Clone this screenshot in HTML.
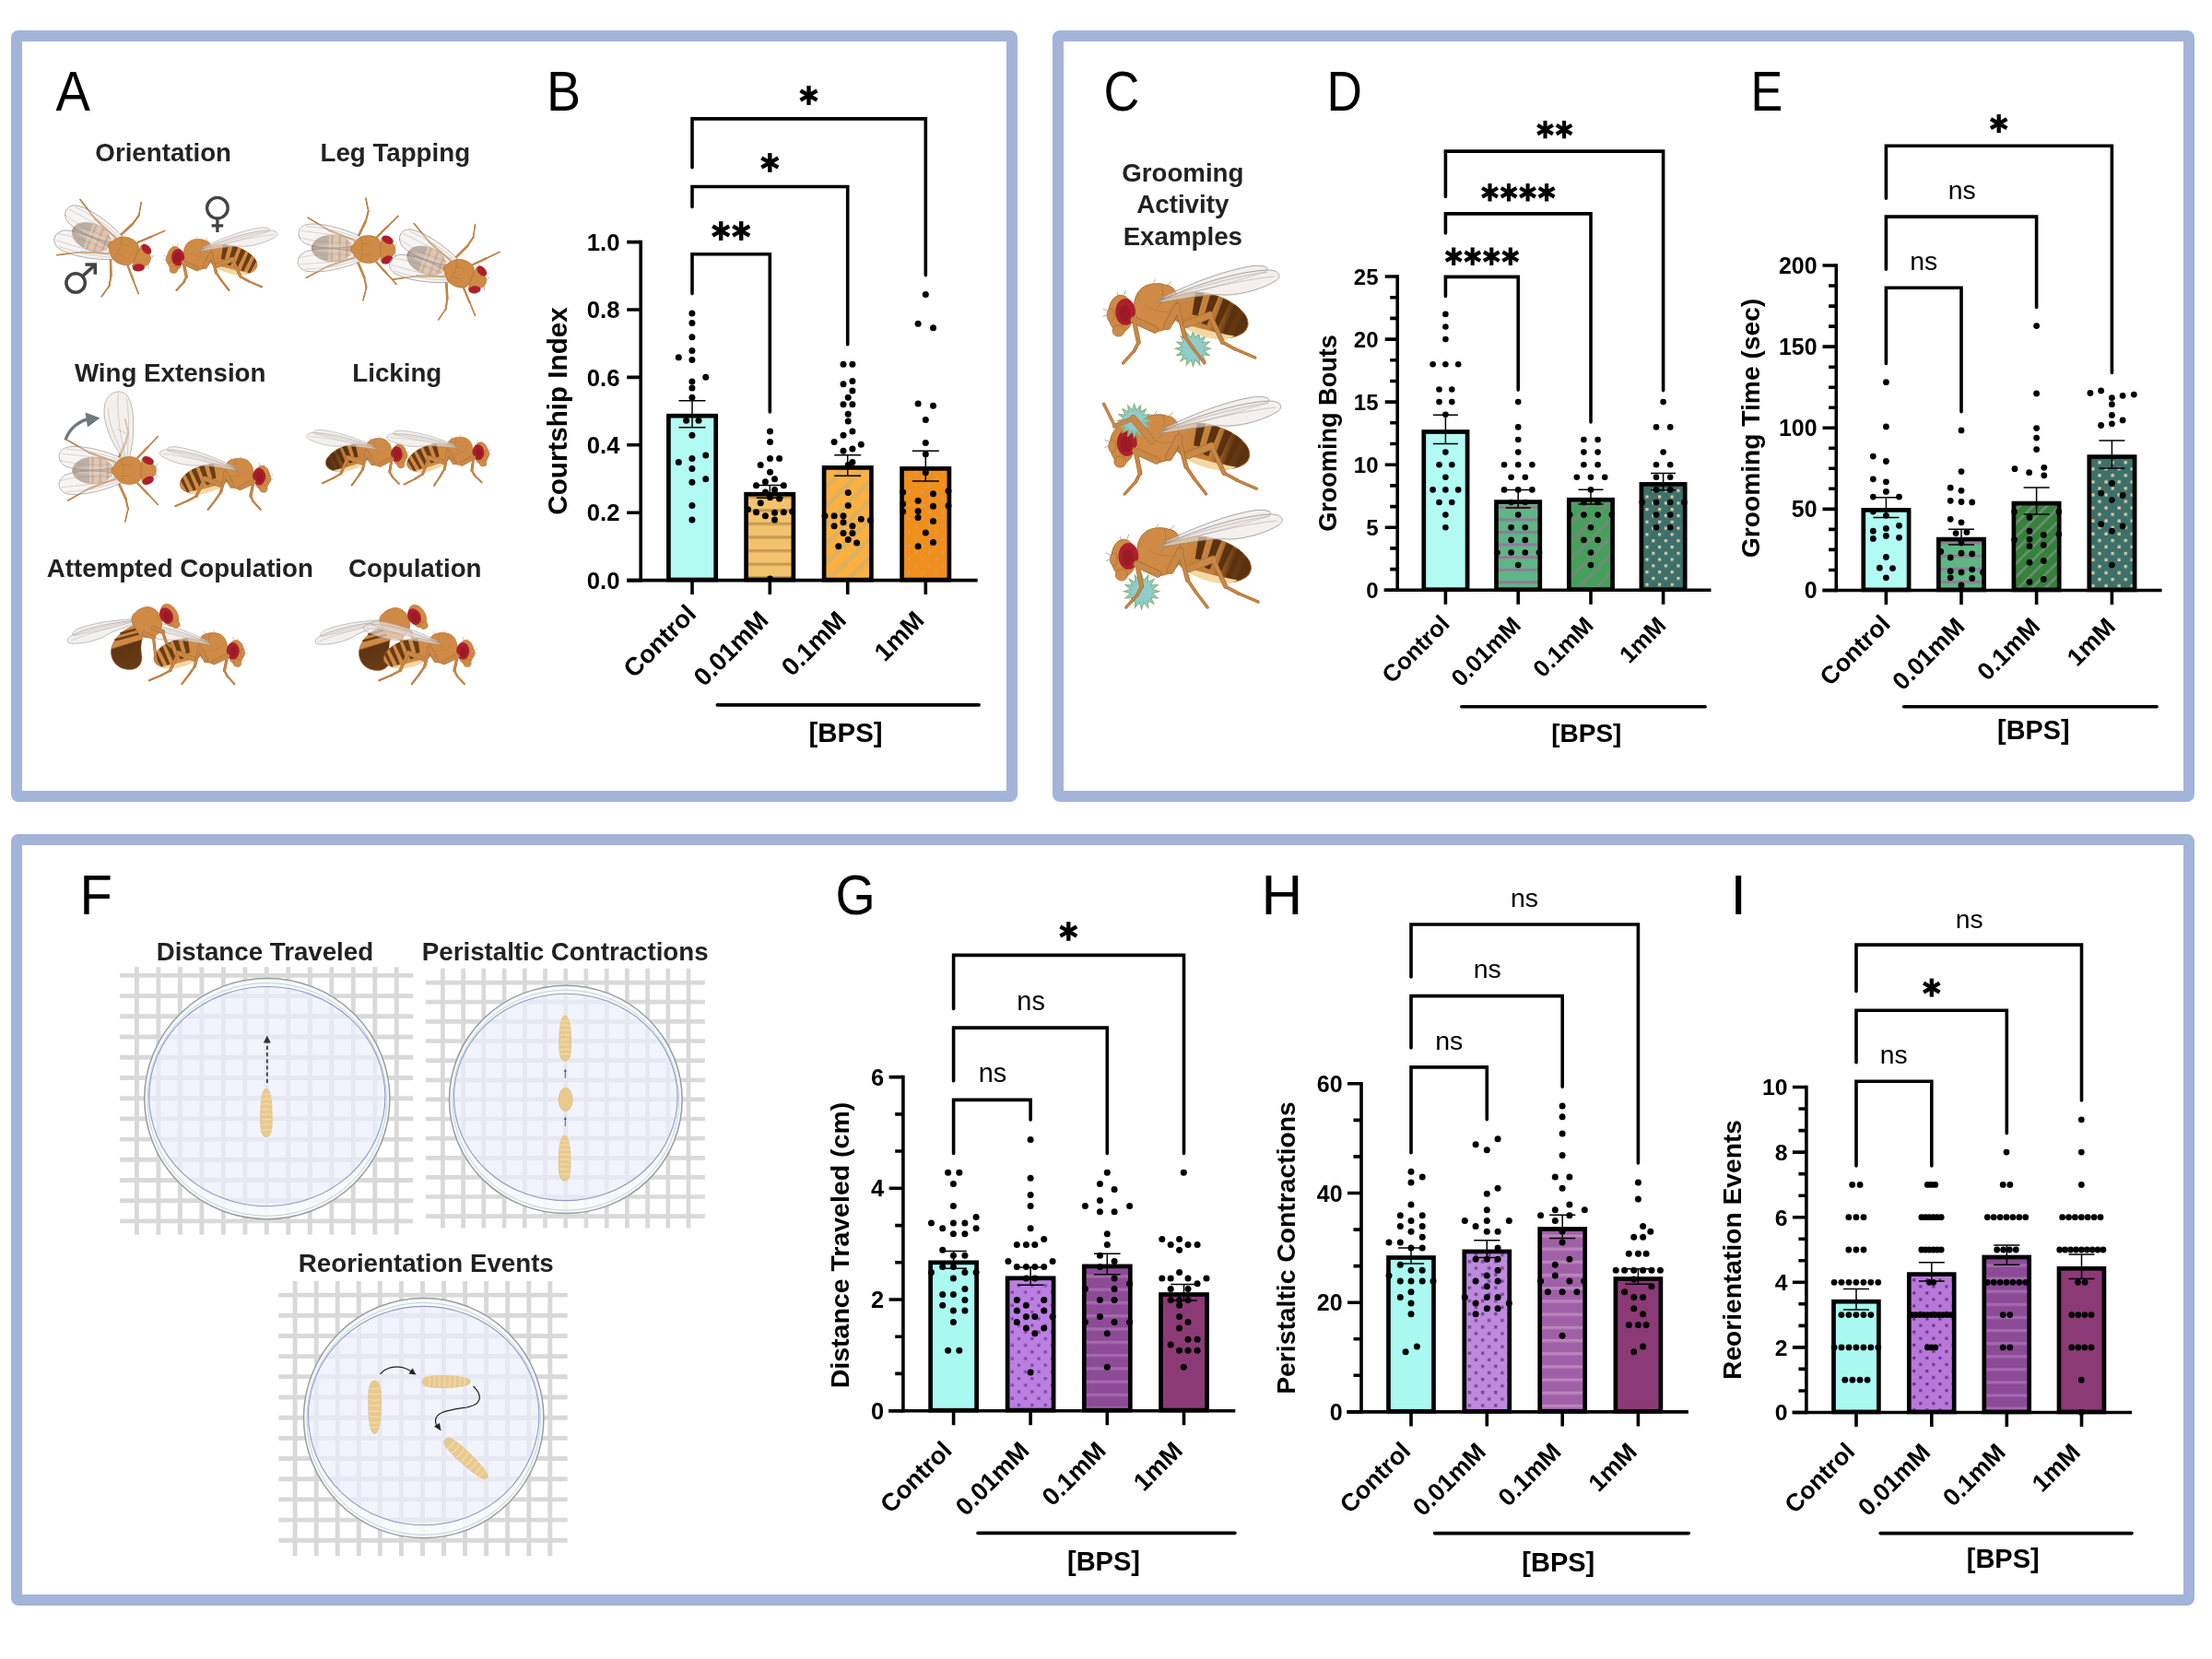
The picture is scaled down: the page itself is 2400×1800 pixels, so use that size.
<!DOCTYPE html>
<html><head><meta charset="utf-8"><title>Figure</title>
<style>
html,body{margin:0;padding:0;background:#fff;}
svg{display:block;will-change:transform;font-family:"Liberation Sans",sans-serif;}
</style></head>
<body>
<svg width="2400" height="1800" viewBox="0 0 2400 1800">
<defs>
<pattern id="pB2" patternUnits="userSpaceOnUse" width="14.6" height="14.6" y="11.9"><rect width="14.6" height="14.6" fill="#f3c26c"/><rect y="0" width="14.6" height="3.3" fill="#c59b54"/></pattern>
<pattern id="pB3" patternUnits="userSpaceOnUse" width="14.6" height="14.6" patternTransform="translate(-3.4 0) rotate(-45)"><rect width="14.6" height="14.6" fill="#fcb040"/><rect y="0" width="14.6" height="5" fill="#deb05e"/></pattern>
<pattern id="pB4" patternUnits="userSpaceOnUse" width="14.6" height="14.6" x="6.8" y="6.7"><rect width="14.6" height="14.6" fill="#f08f19"/><rect x="0" y="0" width="3" height="3" fill="#d69c6c"/><rect x="7.3" y="7.3" width="3" height="3" fill="#d69c6c"/></pattern>
<pattern id="pD2" patternUnits="userSpaceOnUse" width="13.6" height="13.6" y="4.7"><rect width="13.6" height="13.6" fill="#60b586"/><rect y="0" width="13.6" height="3.1" fill="#8e7d96"/></pattern>
<pattern id="pD3" patternUnits="userSpaceOnUse" width="13.7" height="13.7" patternTransform="translate(3 0) rotate(-45)"><rect width="13.7" height="13.7" fill="#45a05a"/><rect y="0" width="13.7" height="3.6" fill="#6f8c76"/></pattern>
<pattern id="pD4" patternUnits="userSpaceOnUse" width="13.6" height="13.6" x="10.6" y="0.3"><rect width="13.6" height="13.6" fill="#3d706b"/><rect x="0" y="0" width="3.2" height="3.2" fill="#d6c8a0"/><rect x="6.8" y="6.8" width="3.2" height="3.2" fill="#d6c8a0"/></pattern>
<pattern id="pE2" patternUnits="userSpaceOnUse" width="14.1" height="14.1" y="9.5"><rect width="14.1" height="14.1" fill="#60b586"/><rect y="0" width="14.1" height="3.2" fill="#8e7d96"/></pattern>
<pattern id="pE3" patternUnits="userSpaceOnUse" width="10.3" height="10.3" patternTransform="translate(0 0) rotate(-45)"><rect width="10.3" height="10.3" fill="#338339"/><rect y="0" width="10.3" height="2.8" fill="#6e8a74"/></pattern>
<pattern id="pE4" patternUnits="userSpaceOnUse" width="14.1" height="14.1" x="6.3" y="6.6"><rect width="14.1" height="14.1" fill="#3d706b"/><rect x="0" y="0" width="3.3" height="3.3" fill="#d6c8a0"/><rect x="7" y="7" width="3.3" height="3.3" fill="#d6c8a0"/></pattern>
<pattern id="pG2" patternUnits="userSpaceOnUse" width="14.4" height="14.4" x="9.4" y="10.8"><rect width="14.4" height="14.4" fill="#ba7fe0"/><rect x="0" y="0" width="3.3" height="3.3" fill="#8249a4"/><rect x="7.2" y="7.2" width="3.3" height="3.3" fill="#8249a4"/></pattern>
<pattern id="pG3" patternUnits="userSpaceOnUse" width="14.3" height="14.3" y="10.4"><rect width="14.3" height="14.3" fill="#8c4a97"/><rect y="0" width="14.3" height="3.3" fill="#a468ad"/></pattern>
<pattern id="pH2" patternUnits="userSpaceOnUse" width="14.2" height="14.2" x="2.3" y="3.9"><rect width="14.2" height="14.2" fill="#be8adc"/><rect x="0" y="0" width="3.4" height="3.4" fill="#7a45a0"/><rect x="7.1" y="7.1" width="3.4" height="3.4" fill="#7a45a0"/></pattern>
<pattern id="pH3" patternUnits="userSpaceOnUse" width="14.2" height="14.2" y="4.5"><rect width="14.2" height="14.2" fill="#a060a8"/><rect y="0" width="14.2" height="3.3" fill="#b984ba"/></pattern>
<pattern id="pI2" patternUnits="userSpaceOnUse" width="14.1" height="14.1" x="2.5" y="5.5"><rect width="14.1" height="14.1" fill="#b878d9"/><rect x="0" y="0" width="3.1" height="3.1" fill="#6d3199"/><rect x="7" y="7" width="3.1" height="3.1" fill="#6d3199"/></pattern>
<pattern id="pI3" patternUnits="userSpaceOnUse" width="14.1" height="14.1" y="3.7"><rect width="14.1" height="14.1" fill="#8c4a97"/><rect y="0" width="14.1" height="3.3" fill="#a468ad"/></pattern>
<linearGradient id="abdM" x1="1" y1="0" x2="0" y2="0"><stop offset="0" stop-color="#cf8a45"/><stop offset="0.55" stop-color="#c27f3a"/><stop offset="0.74" stop-color="#6b3d14"/><stop offset="1" stop-color="#57300f"/></linearGradient>
<linearGradient id="abdT" x1="1" y1="0" x2="0" y2="0"><stop offset="0" stop-color="#dc9f5e"/><stop offset="0.42" stop-color="#d6a068"/><stop offset="0.58" stop-color="#927766"/><stop offset="1" stop-color="#8c7263"/></linearGradient>
<linearGradient id="abdC" gradientUnits="userSpaceOnUse" x1="-30" y1="2" x2="-15" y2="51"><stop offset="0" stop-color="#cf8a45"/><stop offset="0.42" stop-color="#cf8a45"/><stop offset="0.46" stop-color="#5e3412"/><stop offset="1" stop-color="#6a3c16"/></linearGradient>
<clipPath id="abdClip"><ellipse cx="-37" cy="5" rx="28.5" ry="14.5" transform="rotate(-16.5 -37 5)"/></clipPath>
<clipPath id="abdTclip"><ellipse cx="-38.7" cy="0" rx="22" ry="14.3"/></clipPath>
<g id="flyS"><ellipse cx="-37" cy="5" rx="28.5" ry="14.5" transform="rotate(-16.5 -37 5)" fill="#cf8a45" stroke="#a96b2c" stroke-width="0.6"/><path d="M-55 19.5 C-45 18 -30 14 -18 10.5 C-20 15 -30 19.5 -40 21.5 C-46 22.5 -52 22 -55 19.5Z" fill="#f3d8a2"/><g clip-path="url(#abdClip)"><path d="M-34.6 -13.3 L-28.4 -14.7 L-25.5 4.6 L-29.5 5.4Z" fill="#6a3d14"/><path d="M-44.9 -10 L-39.1 -12 L-32.2 10.9 L-35.8 12.1Z" fill="#6a3d14"/><path d="M-53.1 -5.9 L-47.9 -8.1 L-39.9 13.3 L-43.1 14.7Z" fill="#6a3d14"/><path d="M-59.7 -1 L-55.3 -3 L-47.1 16.9 L-49.9 18.1Z" fill="#6a3d14"/><path d="M-65.2 4.9 L-61.8 3.1 L-54.4 19 L-56.6 20Z" fill="#6a3d14"/></g><path d="M-15 -2 C-16 -10 -13 -15.5 -7 -16 C-4 -17.5 4 -17.5 8 -15 C13 -12 15.5 -6 15 0 C14.5 8 10 14 3 16 C-4 17.5 -11 14 -14 8 C-15 5 -15 1 -15 -2Z" fill="#cf8a45" stroke="#a96b2c" stroke-width="0.6"/><path d="M-4 -16.5 C-6 -10 -5 -4 -1 0" fill="none" stroke="#a96b2c" stroke-width="0.5" opacity="0.7"/><path d="M-14 2 C-6 4 2 2 8 -2" fill="none" stroke="#a96b2c" stroke-width="0.5" opacity="0.5"/><ellipse cx="24.5" cy="4" rx="8.6" ry="13" fill="#cf8a45" stroke="#a96b2c" stroke-width="0.6"/><ellipse cx="26" cy="16" rx="4.2" ry="4" fill="#cf8a45" stroke="#a96b2c" stroke-width="0.5"/><ellipse cx="31.5" cy="5" rx="2.6" ry="4.5" fill="#cf8a45" stroke="#a96b2c" stroke-width="0.5"/><ellipse cx="21.2" cy="2.8" rx="7" ry="9.3" fill="#ad1f2b"/><ellipse cx="21.8" cy="3.6" rx="4" ry="5.8" fill="#8c1721" opacity="0.55"/><path d="M33.5 2 L37 0.5 M33.5 5 L37 6 M22 -9 L21 -12.5 M26 -8 L27 -11 M2 -17 L0 -20 M-8 -16 L-11 -18.5" stroke="#8a8a8a" stroke-width="0.45" fill="none"/><path d="M-3 -6.5 C-22 -9 -58 -19 -76 -25 C-81 -27.5 -77 -30 -69 -29.5 C-46 -26.5 -18 -14 -3 -6.5Z" fill="#ece7e4" fill-opacity="0.62" stroke="#948c86" stroke-width="0.5"/><path d="M-1 -4 C-16 -5 -34 -10.5 -50 -9 C-62 -9.5 -76 -14 -84 -19 C-89 -22.5 -86 -26.5 -79 -26.5 C-56 -26 -20 -13.5 -1 -4Z" fill="#ece7e4" fill-opacity="0.62" stroke="#948c86" stroke-width="0.5"/><path d="M-2 -5 C-25 -11 -60 -20 -83 -22 M-4 -6 C-30 -15 -60 -23 -78 -25" fill="none" stroke="#948c86" stroke-width="0.4" opacity="0.7"/><line x1="0.6" y1="15.2" x2="15.2" y2="8.4" stroke="#a96b2c" stroke-width="5.1" stroke-linecap="round"/><line x1="15.2" y1="8.4" x2="12" y2="24" stroke="#a96b2c" stroke-width="3.2" stroke-linecap="round"/><line x1="12" y1="24" x2="15" y2="30" stroke="#a96b2c" stroke-width="2.4" stroke-linecap="round"/><line x1="15" y1="30" x2="22.8" y2="38.6" stroke="#a96b2c" stroke-width="2.1" stroke-linecap="round"/><line x1="0.6" y1="15.2" x2="15.2" y2="8.4" stroke="#c88847" stroke-width="4.2" stroke-linecap="round"/><line x1="15.2" y1="8.4" x2="12" y2="24" stroke="#c88847" stroke-width="2.3" stroke-linecap="round"/><line x1="12" y1="24" x2="15" y2="30" stroke="#c88847" stroke-width="1.5" stroke-linecap="round"/><line x1="15" y1="30" x2="22.8" y2="38.6" stroke="#c88847" stroke-width="1.2" stroke-linecap="round"/><line x1="-8.2" y1="12.7" x2="-15" y2="-0.6" stroke="#a96b2c" stroke-width="5.5" stroke-linecap="round"/><line x1="-15" y1="-0.6" x2="-20.3" y2="19.6" stroke="#a96b2c" stroke-width="3.3" stroke-linecap="round"/><line x1="-20.3" y1="19.6" x2="-26" y2="28" stroke="#a96b2c" stroke-width="2.4" stroke-linecap="round"/><line x1="-26" y1="28" x2="-34.2" y2="38.6" stroke="#a96b2c" stroke-width="2.1" stroke-linecap="round"/><line x1="-8.2" y1="12.7" x2="-15" y2="-0.6" stroke="#c88847" stroke-width="4.6" stroke-linecap="round"/><line x1="-15" y1="-0.6" x2="-20.3" y2="19.6" stroke="#c88847" stroke-width="2.4" stroke-linecap="round"/><line x1="-20.3" y1="19.6" x2="-26" y2="28" stroke="#c88847" stroke-width="1.5" stroke-linecap="round"/><line x1="-26" y1="28" x2="-34.2" y2="38.6" stroke="#c88847" stroke-width="1.2" stroke-linecap="round"/><line x1="-21.5" y1="11.4" x2="-38" y2="5" stroke="#a96b2c" stroke-width="5.3" stroke-linecap="round"/><line x1="-38" y1="5" x2="-46.8" y2="24" stroke="#a96b2c" stroke-width="3.3" stroke-linecap="round"/><line x1="-46.8" y1="24" x2="-56" y2="29" stroke="#a96b2c" stroke-width="2.4" stroke-linecap="round"/><line x1="-56" y1="29" x2="-69.6" y2="34.8" stroke="#a96b2c" stroke-width="2.1" stroke-linecap="round"/><line x1="-21.5" y1="11.4" x2="-38" y2="5" stroke="#c88847" stroke-width="4.4" stroke-linecap="round"/><line x1="-38" y1="5" x2="-46.8" y2="24" stroke="#c88847" stroke-width="2.4" stroke-linecap="round"/><line x1="-46.8" y1="24" x2="-56" y2="29" stroke="#c88847" stroke-width="1.5" stroke-linecap="round"/><line x1="-56" y1="29" x2="-69.6" y2="34.8" stroke="#c88847" stroke-width="1.2" stroke-linecap="round"/></g>
<g id="flySm"><ellipse cx="-37" cy="5" rx="28.5" ry="14.5" transform="rotate(-16.5 -37 5)" fill="url(#abdM)" stroke="#a96b2c" stroke-width="0.6"/><path d="M-55 19.5 C-45 18 -30 14 -18 10.5 C-20 15 -30 19.5 -40 21.5 C-46 22.5 -52 22 -55 19.5Z" fill="#f3d8a2"/><g clip-path="url(#abdClip)"><path d="M-34.6 -13.3 L-28.4 -14.7 L-25.5 4.6 L-29.5 5.4Z" fill="#5a3210"/><path d="M-44.9 -10 L-39.1 -12 L-32.2 10.9 L-35.8 12.1Z" fill="#5a3210"/><path d="M-53.1 -5.9 L-47.9 -8.1 L-39.9 13.3 L-43.1 14.7Z" fill="#5a3210"/><path d="M-59.7 -1 L-55.3 -3 L-47.1 16.9 L-49.9 18.1Z" fill="#5a3210"/><path d="M-65.2 4.9 L-61.8 3.1 L-54.4 19 L-56.6 20Z" fill="#5a3210"/></g><path d="M-15 -2 C-16 -10 -13 -15.5 -7 -16 C-4 -17.5 4 -17.5 8 -15 C13 -12 15.5 -6 15 0 C14.5 8 10 14 3 16 C-4 17.5 -11 14 -14 8 C-15 5 -15 1 -15 -2Z" fill="#cf8a45" stroke="#a96b2c" stroke-width="0.6"/><path d="M-4 -16.5 C-6 -10 -5 -4 -1 0" fill="none" stroke="#a96b2c" stroke-width="0.5" opacity="0.7"/><path d="M-14 2 C-6 4 2 2 8 -2" fill="none" stroke="#a96b2c" stroke-width="0.5" opacity="0.5"/><ellipse cx="24.5" cy="4" rx="8.6" ry="13" fill="#cf8a45" stroke="#a96b2c" stroke-width="0.6"/><ellipse cx="26" cy="16" rx="4.2" ry="4" fill="#cf8a45" stroke="#a96b2c" stroke-width="0.5"/><ellipse cx="31.5" cy="5" rx="2.6" ry="4.5" fill="#cf8a45" stroke="#a96b2c" stroke-width="0.5"/><ellipse cx="21.2" cy="2.8" rx="7" ry="9.3" fill="#ad1f2b"/><ellipse cx="21.8" cy="3.6" rx="4" ry="5.8" fill="#8c1721" opacity="0.55"/><path d="M33.5 2 L37 0.5 M33.5 5 L37 6 M22 -9 L21 -12.5 M26 -8 L27 -11 M2 -17 L0 -20 M-8 -16 L-11 -18.5" stroke="#8a8a8a" stroke-width="0.45" fill="none"/><path d="M-3 -6.5 C-22 -9 -58 -19 -76 -25 C-81 -27.5 -77 -30 -69 -29.5 C-46 -26.5 -18 -14 -3 -6.5Z" fill="#ece7e4" fill-opacity="0.62" stroke="#948c86" stroke-width="0.5"/><path d="M-1 -4 C-16 -5 -34 -10.5 -50 -9 C-62 -9.5 -76 -14 -84 -19 C-89 -22.5 -86 -26.5 -79 -26.5 C-56 -26 -20 -13.5 -1 -4Z" fill="#ece7e4" fill-opacity="0.62" stroke="#948c86" stroke-width="0.5"/><path d="M-2 -5 C-25 -11 -60 -20 -83 -22 M-4 -6 C-30 -15 -60 -23 -78 -25" fill="none" stroke="#948c86" stroke-width="0.4" opacity="0.7"/><line x1="0.6" y1="15.2" x2="15.2" y2="8.4" stroke="#a96b2c" stroke-width="5.1" stroke-linecap="round"/><line x1="15.2" y1="8.4" x2="12" y2="24" stroke="#a96b2c" stroke-width="3.2" stroke-linecap="round"/><line x1="12" y1="24" x2="15" y2="30" stroke="#a96b2c" stroke-width="2.4" stroke-linecap="round"/><line x1="15" y1="30" x2="22.8" y2="38.6" stroke="#a96b2c" stroke-width="2.1" stroke-linecap="round"/><line x1="0.6" y1="15.2" x2="15.2" y2="8.4" stroke="#c88847" stroke-width="4.2" stroke-linecap="round"/><line x1="15.2" y1="8.4" x2="12" y2="24" stroke="#c88847" stroke-width="2.3" stroke-linecap="round"/><line x1="12" y1="24" x2="15" y2="30" stroke="#c88847" stroke-width="1.5" stroke-linecap="round"/><line x1="15" y1="30" x2="22.8" y2="38.6" stroke="#c88847" stroke-width="1.2" stroke-linecap="round"/><line x1="-8.2" y1="12.7" x2="-15" y2="-0.6" stroke="#a96b2c" stroke-width="5.5" stroke-linecap="round"/><line x1="-15" y1="-0.6" x2="-20.3" y2="19.6" stroke="#a96b2c" stroke-width="3.3" stroke-linecap="round"/><line x1="-20.3" y1="19.6" x2="-26" y2="28" stroke="#a96b2c" stroke-width="2.4" stroke-linecap="round"/><line x1="-26" y1="28" x2="-34.2" y2="38.6" stroke="#a96b2c" stroke-width="2.1" stroke-linecap="round"/><line x1="-8.2" y1="12.7" x2="-15" y2="-0.6" stroke="#c88847" stroke-width="4.6" stroke-linecap="round"/><line x1="-15" y1="-0.6" x2="-20.3" y2="19.6" stroke="#c88847" stroke-width="2.4" stroke-linecap="round"/><line x1="-20.3" y1="19.6" x2="-26" y2="28" stroke="#c88847" stroke-width="1.5" stroke-linecap="round"/><line x1="-26" y1="28" x2="-34.2" y2="38.6" stroke="#c88847" stroke-width="1.2" stroke-linecap="round"/><line x1="-21.5" y1="11.4" x2="-38" y2="5" stroke="#a96b2c" stroke-width="5.3" stroke-linecap="round"/><line x1="-38" y1="5" x2="-46.8" y2="24" stroke="#a96b2c" stroke-width="3.3" stroke-linecap="round"/><line x1="-46.8" y1="24" x2="-56" y2="29" stroke="#a96b2c" stroke-width="2.4" stroke-linecap="round"/><line x1="-56" y1="29" x2="-69.6" y2="34.8" stroke="#a96b2c" stroke-width="2.1" stroke-linecap="round"/><line x1="-21.5" y1="11.4" x2="-38" y2="5" stroke="#c88847" stroke-width="4.4" stroke-linecap="round"/><line x1="-38" y1="5" x2="-46.8" y2="24" stroke="#c88847" stroke-width="2.4" stroke-linecap="round"/><line x1="-46.8" y1="24" x2="-56" y2="29" stroke="#c88847" stroke-width="1.5" stroke-linecap="round"/><line x1="-56" y1="29" x2="-69.6" y2="34.8" stroke="#c88847" stroke-width="1.2" stroke-linecap="round"/></g>
<g id="flyT"><line x1="10" y1="-14" x2="21" y2="-25.5" stroke="#a96b2c" stroke-width="2.1" stroke-linecap="round"/><line x1="21" y1="-25.5" x2="32" y2="-37" stroke="#a96b2c" stroke-width="1.5" stroke-linecap="round"/><line x1="10" y1="-14" x2="21" y2="-25.5" stroke="#c88847" stroke-width="1.5" stroke-linecap="round"/><line x1="21" y1="-25.5" x2="32" y2="-37" stroke="#c88847" stroke-width="0.9" stroke-linecap="round"/><line x1="-10" y1="-15" x2="-2.9" y2="-30.7" stroke="#a96b2c" stroke-width="2.5" stroke-linecap="round"/><line x1="-2.9" y1="-30.7" x2="-0.4" y2="-41.6" stroke="#a96b2c" stroke-width="1.9" stroke-linecap="round"/><line x1="-0.4" y1="-41.6" x2="-3.6" y2="-55.4" stroke="#a96b2c" stroke-width="1.5" stroke-linecap="round"/><line x1="-10" y1="-15" x2="-2.9" y2="-30.7" stroke="#c88847" stroke-width="1.9" stroke-linecap="round"/><line x1="-2.9" y1="-30.7" x2="-0.4" y2="-41.6" stroke="#c88847" stroke-width="1.3" stroke-linecap="round"/><line x1="-0.4" y1="-41.6" x2="-3.6" y2="-55.4" stroke="#c88847" stroke-width="0.9" stroke-linecap="round"/><line x1="-14" y1="-9" x2="-42.7" y2="-19.5" stroke="#a96b2c" stroke-width="2.1" stroke-linecap="round"/><line x1="-42.7" y1="-19.5" x2="-65.8" y2="-32.6" stroke="#a96b2c" stroke-width="1.5" stroke-linecap="round"/><line x1="-14" y1="-9" x2="-42.7" y2="-19.5" stroke="#c88847" stroke-width="1.5" stroke-linecap="round"/><line x1="-42.7" y1="-19.5" x2="-65.8" y2="-32.6" stroke="#c88847" stroke-width="0.9" stroke-linecap="round"/><line x1="10" y1="14" x2="21" y2="25.5" stroke="#a96b2c" stroke-width="2.1" stroke-linecap="round"/><line x1="21" y1="25.5" x2="32" y2="37" stroke="#a96b2c" stroke-width="1.5" stroke-linecap="round"/><line x1="10" y1="14" x2="21" y2="25.5" stroke="#c88847" stroke-width="1.5" stroke-linecap="round"/><line x1="21" y1="25.5" x2="32" y2="37" stroke="#c88847" stroke-width="0.9" stroke-linecap="round"/><line x1="-10" y1="15" x2="-2.9" y2="30.7" stroke="#a96b2c" stroke-width="2.5" stroke-linecap="round"/><line x1="-2.9" y1="30.7" x2="-0.4" y2="41.6" stroke="#a96b2c" stroke-width="1.9" stroke-linecap="round"/><line x1="-0.4" y1="41.6" x2="-3.6" y2="55.4" stroke="#a96b2c" stroke-width="1.5" stroke-linecap="round"/><line x1="-10" y1="15" x2="-2.9" y2="30.7" stroke="#c88847" stroke-width="1.9" stroke-linecap="round"/><line x1="-2.9" y1="30.7" x2="-0.4" y2="41.6" stroke="#c88847" stroke-width="1.3" stroke-linecap="round"/><line x1="-0.4" y1="41.6" x2="-3.6" y2="55.4" stroke="#c88847" stroke-width="0.9" stroke-linecap="round"/><line x1="-14" y1="9" x2="-42.7" y2="19.5" stroke="#a96b2c" stroke-width="2.1" stroke-linecap="round"/><line x1="-42.7" y1="19.5" x2="-65.8" y2="32.6" stroke="#a96b2c" stroke-width="1.5" stroke-linecap="round"/><line x1="-14" y1="9" x2="-42.7" y2="19.5" stroke="#c88847" stroke-width="1.5" stroke-linecap="round"/><line x1="-42.7" y1="19.5" x2="-65.8" y2="32.6" stroke="#c88847" stroke-width="0.9" stroke-linecap="round"/><g clip-path="url(#abdTclip)"><rect x="-62" y="-16" width="48" height="32" fill="#dcae84"/><rect x="-62" y="-16" width="19.5" height="32" fill="#9c8777"/><rect x="-40.1" y="-16" width="2.5" height="32" fill="#a48c7b"/><rect x="-31.8" y="-16" width="2.5" height="32" fill="#a48c7b"/><rect x="-23.9" y="-16" width="2.5" height="32" fill="#a48c7b"/><path d="M-62 0 C-52 -6 -28 -6 -17 0 C-28 6 -52 6 -62 0Z" fill="#d3c2b6" opacity="0.5"/></g><ellipse cx="-38.7" cy="0" rx="22" ry="14.3" fill="none" stroke="#8f7a6a" stroke-width="0.5"/><g transform="rotate(1.5 -2 -8)"><path d="M-2 -7.3 C-16 0.7 -52 3.2 -68 -2.8 C-78 -8.3 -78 -19.3 -68 -23.3 C-52 -27.8 -18 -19.3 -2 -10.3Z" fill="#ece7e4" fill-opacity="0.42" stroke="#948c86" stroke-width="0.65"/><path d="M-4 -8.3 C-30 -4.3 -55 -4.3 -75 -9.3 M-4 -9.3 C-30 -13.3 -55 -15.3 -73 -16.3 M-6 -10.3 C-30 -18.3 -50 -21.3 -68 -21.3" fill="none" stroke="#948c86" stroke-width="0.45" opacity="0.7"/></g><g transform="rotate(-1.5 -2 8)"><path d="M-2 7.3 C-16 -0.7 -52 -3.2 -68 2.8 C-78 8.3 -78 19.3 -68 23.3 C-52 27.8 -18 19.3 -2 10.3Z" fill="#ece7e4" fill-opacity="0.42" stroke="#948c86" stroke-width="0.65"/><path d="M-4 8.3 C-30 4.3 -55 4.3 -75 9.3 M-4 9.3 C-30 13.3 -55 15.3 -73 16.3 M-6 10.3 C-30 18.3 -50 21.3 -68 21.3" fill="none" stroke="#948c86" stroke-width="0.45" opacity="0.7"/></g><path d="M-18.8 0 C-16 -6 -12 -10 -9 -12.5 C-4 -15.8 6 -16 11 -12 C15.5 -8 15.5 8 11 12 C6 16 -4 15.8 -9 12.5 C-12 10 -16 6 -18.8 0Z" fill="#cf8a45" stroke="#a96b2c" stroke-width="0.6"/><path d="M-8 -12 C-5 -5 -5 5 -8 12 M-7 -6 L2 -6 M-7 6 L2 6" fill="none" stroke="#a96b2c" stroke-width="0.55" opacity="0.7"/><path d="M14.6 -12.6 L27 -6.6 C31 -4 31 4 27 6.6 L14.6 12.6 C13.2 5 13.2 -5 14.6 -12.6Z" fill="#cf8a45" stroke="#a96b2c" stroke-width="0.6"/><ellipse cx="21.3" cy="-10.9" rx="6.6" ry="4.1" transform="rotate(26 21.3 -10.9)" fill="#ad1f2b"/><ellipse cx="21.3" cy="10.9" rx="6.6" ry="4.1" transform="rotate(-26 21.3 10.9)" fill="#ad1f2b"/><path d="M29.5 -3 L31.5 -8 M29.5 3 L31.5 8" stroke="#8c9399" stroke-width="0.6"/></g>
<g id="flyTw"><line x1="10" y1="-14" x2="21" y2="-25.5" stroke="#a96b2c" stroke-width="2.1" stroke-linecap="round"/><line x1="21" y1="-25.5" x2="32" y2="-37" stroke="#a96b2c" stroke-width="1.5" stroke-linecap="round"/><line x1="10" y1="-14" x2="21" y2="-25.5" stroke="#c88847" stroke-width="1.5" stroke-linecap="round"/><line x1="21" y1="-25.5" x2="32" y2="-37" stroke="#c88847" stroke-width="0.9" stroke-linecap="round"/><line x1="-10" y1="-15" x2="-2.9" y2="-30.7" stroke="#a96b2c" stroke-width="2.5" stroke-linecap="round"/><line x1="-2.9" y1="-30.7" x2="-0.4" y2="-41.6" stroke="#a96b2c" stroke-width="1.9" stroke-linecap="round"/><line x1="-0.4" y1="-41.6" x2="-3.6" y2="-55.4" stroke="#a96b2c" stroke-width="1.5" stroke-linecap="round"/><line x1="-10" y1="-15" x2="-2.9" y2="-30.7" stroke="#c88847" stroke-width="1.9" stroke-linecap="round"/><line x1="-2.9" y1="-30.7" x2="-0.4" y2="-41.6" stroke="#c88847" stroke-width="1.3" stroke-linecap="round"/><line x1="-0.4" y1="-41.6" x2="-3.6" y2="-55.4" stroke="#c88847" stroke-width="0.9" stroke-linecap="round"/><line x1="-14" y1="-9" x2="-42.7" y2="-19.5" stroke="#a96b2c" stroke-width="2.1" stroke-linecap="round"/><line x1="-42.7" y1="-19.5" x2="-65.8" y2="-32.6" stroke="#a96b2c" stroke-width="1.5" stroke-linecap="round"/><line x1="-14" y1="-9" x2="-42.7" y2="-19.5" stroke="#c88847" stroke-width="1.5" stroke-linecap="round"/><line x1="-42.7" y1="-19.5" x2="-65.8" y2="-32.6" stroke="#c88847" stroke-width="0.9" stroke-linecap="round"/><line x1="10" y1="14" x2="21" y2="25.5" stroke="#a96b2c" stroke-width="2.1" stroke-linecap="round"/><line x1="21" y1="25.5" x2="32" y2="37" stroke="#a96b2c" stroke-width="1.5" stroke-linecap="round"/><line x1="10" y1="14" x2="21" y2="25.5" stroke="#c88847" stroke-width="1.5" stroke-linecap="round"/><line x1="21" y1="25.5" x2="32" y2="37" stroke="#c88847" stroke-width="0.9" stroke-linecap="round"/><line x1="-10" y1="15" x2="-2.9" y2="30.7" stroke="#a96b2c" stroke-width="2.5" stroke-linecap="round"/><line x1="-2.9" y1="30.7" x2="-0.4" y2="41.6" stroke="#a96b2c" stroke-width="1.9" stroke-linecap="round"/><line x1="-0.4" y1="41.6" x2="-3.6" y2="55.4" stroke="#a96b2c" stroke-width="1.5" stroke-linecap="round"/><line x1="-10" y1="15" x2="-2.9" y2="30.7" stroke="#c88847" stroke-width="1.9" stroke-linecap="round"/><line x1="-2.9" y1="30.7" x2="-0.4" y2="41.6" stroke="#c88847" stroke-width="1.3" stroke-linecap="round"/><line x1="-0.4" y1="41.6" x2="-3.6" y2="55.4" stroke="#c88847" stroke-width="0.9" stroke-linecap="round"/><line x1="-14" y1="9" x2="-42.7" y2="19.5" stroke="#a96b2c" stroke-width="2.1" stroke-linecap="round"/><line x1="-42.7" y1="19.5" x2="-65.8" y2="32.6" stroke="#a96b2c" stroke-width="1.5" stroke-linecap="round"/><line x1="-14" y1="9" x2="-42.7" y2="19.5" stroke="#c88847" stroke-width="1.5" stroke-linecap="round"/><line x1="-42.7" y1="19.5" x2="-65.8" y2="32.6" stroke="#c88847" stroke-width="0.9" stroke-linecap="round"/><g clip-path="url(#abdTclip)"><rect x="-62" y="-16" width="48" height="32" fill="#dcae84"/><rect x="-62" y="-16" width="19.5" height="32" fill="#9c8777"/><rect x="-40.1" y="-16" width="2.5" height="32" fill="#a48c7b"/><rect x="-31.8" y="-16" width="2.5" height="32" fill="#a48c7b"/><rect x="-23.9" y="-16" width="2.5" height="32" fill="#a48c7b"/><path d="M-62 0 C-52 -6 -28 -6 -17 0 C-28 6 -52 6 -62 0Z" fill="#d3c2b6" opacity="0.5"/></g><ellipse cx="-38.7" cy="0" rx="22" ry="14.3" fill="none" stroke="#8f7a6a" stroke-width="0.5"/><g transform="rotate(1.5 -2 -8)"><path d="M-2 -7.3 C-16 0.7 -52 3.2 -68 -2.8 C-78 -8.3 -78 -19.3 -68 -23.3 C-52 -27.8 -18 -19.3 -2 -10.3Z" fill="#ece7e4" fill-opacity="0.42" stroke="#948c86" stroke-width="0.65"/><path d="M-4 -8.3 C-30 -4.3 -55 -4.3 -75 -9.3 M-4 -9.3 C-30 -13.3 -55 -15.3 -73 -16.3 M-6 -10.3 C-30 -18.3 -50 -21.3 -68 -21.3" fill="none" stroke="#948c86" stroke-width="0.45" opacity="0.7"/></g><path d="M-3 -11 C-16 -24 -29 -52 -26 -70 C-24 -84 -10 -90 -2 -82 C8 -70 7 -32 0 -11Z" fill="#ece7e4" fill-opacity="0.62" stroke="#948c86" stroke-width="0.6"/><path d="M-2 -12 C-8 -32 -13 -60 -11 -84 M-1 -12 C-1 -32 2 -54 -2 -78 M-3 -13 C-13 -30 -21 -48 -22 -68 M-12 -45 L-2 -40" fill="none" stroke="#948c86" stroke-width="0.45" opacity="0.8"/><g transform="rotate(-1.5 -2 8)"><path d="M-2 7.3 C-16 -0.7 -52 -3.2 -68 2.8 C-78 8.3 -78 19.3 -68 23.3 C-52 27.8 -18 19.3 -2 10.3Z" fill="#ece7e4" fill-opacity="0.42" stroke="#948c86" stroke-width="0.65"/><path d="M-4 8.3 C-30 4.3 -55 4.3 -75 9.3 M-4 9.3 C-30 13.3 -55 15.3 -73 16.3 M-6 10.3 C-30 18.3 -50 21.3 -68 21.3" fill="none" stroke="#948c86" stroke-width="0.45" opacity="0.7"/></g><path d="M-18.8 0 C-16 -6 -12 -10 -9 -12.5 C-4 -15.8 6 -16 11 -12 C15.5 -8 15.5 8 11 12 C6 16 -4 15.8 -9 12.5 C-12 10 -16 6 -18.8 0Z" fill="#cf8a45" stroke="#a96b2c" stroke-width="0.6"/><path d="M-8 -12 C-5 -5 -5 5 -8 12 M-7 -6 L2 -6 M-7 6 L2 6" fill="none" stroke="#a96b2c" stroke-width="0.55" opacity="0.7"/><path d="M14.6 -12.6 L27 -6.6 C31 -4 31 4 27 6.6 L14.6 12.6 C13.2 5 13.2 -5 14.6 -12.6Z" fill="#cf8a45" stroke="#a96b2c" stroke-width="0.6"/><ellipse cx="21.3" cy="-10.9" rx="6.6" ry="4.1" transform="rotate(26 21.3 -10.9)" fill="#ad1f2b"/><ellipse cx="21.3" cy="10.9" rx="6.6" ry="4.1" transform="rotate(-26 21.3 10.9)" fill="#ad1f2b"/><path d="M29.5 -3 L31.5 -8 M29.5 3 L31.5 8" stroke="#8c9399" stroke-width="0.6"/></g>
<g id="larva"><path d="M-28 -1 C-27 -6 -18 -6.8 -6 -6.8 C8 -6.8 20 -6 26 -3 C29 -1.5 29 1.5 26 3 C20 6 8 6.8 -6 6.8 C-18 6.8 -27 6 -28 1Z" fill="#e9ca8e" stroke="#dcb876" stroke-width="0.6"/><path d="M-20 -6 C-19 -2 -19 2 -20 6" fill="none" stroke="#f3dfb4" stroke-width="1.1"/><path d="M-14 -6 C-13 -2 -13 2 -14 6" fill="none" stroke="#f3dfb4" stroke-width="1.1"/><path d="M-8 -6 C-7 -2 -7 2 -8 6" fill="none" stroke="#f3dfb4" stroke-width="1.1"/><path d="M-2 -6 C-1 -2 -1 2 -2 6" fill="none" stroke="#f3dfb4" stroke-width="1.1"/><path d="M4 -6 C5 -2 5 2 4 6" fill="none" stroke="#f3dfb4" stroke-width="1.1"/><path d="M10 -6 C11 -2 11 2 10 6" fill="none" stroke="#f3dfb4" stroke-width="1.1"/><path d="M16 -6 C17 -2 17 2 16 6" fill="none" stroke="#f3dfb4" stroke-width="1.1"/><path d="M21 -6 C22 -2 22 2 21 6" fill="none" stroke="#f3dfb4" stroke-width="1.1"/></g>
</defs>
<rect width="2400" height="1800" fill="#fff"/>
<rect x="18" y="39" width="1080" height="825" rx="2" ry="2" fill="#fff" stroke="#a3b4d9" stroke-width="12" stroke-linejoin="round"/>
<rect x="1148" y="39" width="1227" height="825" rx="2" ry="2" fill="#fff" stroke="#a3b4d9" stroke-width="12" stroke-linejoin="round"/>
<rect x="18" y="911" width="2357" height="825" rx="2" ry="2" fill="#fff" stroke="#a3b4d9" stroke-width="12" stroke-linejoin="round"/>
<text transform="translate(60.6 120.2) scale(0.96 1.03)" font-size="58.5">A</text>
<text transform="translate(1197.5 120) scale(0.92 1.03)" font-size="58.5">C</text>
<text transform="translate(86.5 992.2) scale(0.99 1.03)" font-size="58.5">F</text>
<text x="177.2" y="174.8" font-size="27.7" font-weight="700" fill="#222" text-anchor="middle">Orientation</text>
<text x="428.8" y="174.8" font-size="27.7" font-weight="700" fill="#222" text-anchor="middle">Leg Tapping</text>
<text x="184.7" y="413.5" font-size="27.7" font-weight="700" fill="#222" text-anchor="middle">Wing Extension</text>
<text x="430.8" y="413.5" font-size="27.7" font-weight="700" fill="#222" text-anchor="middle">Licking</text>
<text x="195.3" y="626" font-size="27.7" font-weight="700" fill="#222" text-anchor="middle">Attempted Copulation</text>
<text x="450.2" y="626" font-size="27.7" font-weight="700" fill="#222" text-anchor="middle">Copulation</text>
<text x="1283.3" y="197.3" font-size="27.7" font-weight="700" fill="#222" text-anchor="middle">Grooming</text>
<text x="1283.3" y="231.4" font-size="27.7" font-weight="700" fill="#222" text-anchor="middle">Activity</text>
<text x="1283.3" y="265.6" font-size="27.7" font-weight="700" fill="#222" text-anchor="middle">Examples</text>
<text x="287.4" y="1041.5" font-size="27.7" font-weight="700" fill="#222" text-anchor="middle">Distance Traveled</text>
<text x="613.2" y="1041.5" font-size="27.7" font-weight="700" fill="#222" text-anchor="middle">Peristaltic Contractions</text>
<text x="462.3" y="1380.1" font-size="27.7" font-weight="700" fill="#222" text-anchor="middle">Reorientation Events</text>
<use href="#flyT" transform="translate(135 272.1) rotate(22.8) scale(1.0 1.0)"/>
<use href="#flyS" transform="translate(214.3 276.4) rotate(0) scale(-1.0 1.0)"/>
<g fill="none" stroke="#444" stroke-width="3.6"><circle cx="82.1" cy="307" r="10.2"/><path d="M89.6 299.6L102.3 288M92.5 287H103.3V297.8"/></g>
<g fill="none" stroke="#444" stroke-width="3.3"><circle cx="235.9" cy="225.7" r="11.3"/><path d="M235.9 237V252M229.6 244.9H242.2"/></g>
<use href="#flyT" transform="translate(399 270.5) rotate(1.5) scale(1.0 1.0)"/>
<use href="#flyT" transform="translate(499 296.5) rotate(21) scale(1.0 1.0)"/>
<use href="#flyTw" transform="translate(139.4 510.5) rotate(0) scale(1.0 1.0)"/>
<path d="M71 477.5 C75 465 86 456 99 454" fill="none" stroke="#6c7a82" stroke-width="3.4"/><path d="M92.5 447.5 L108.5 453.5 L95 463.5Z" fill="#6c7a82"/>
<use href="#flyS" transform="translate(259.9 514.3) rotate(0) scale(1.0 1.0)"/>
<use href="#flySm" transform="translate(411.2 490.8) rotate(-2) scale(0.9 0.9)"/>
<use href="#flyS" transform="translate(499.5 489.6) rotate(-4) scale(0.91 0.91)"/>
<use href="#flyS" transform="translate(231.5 703.5) rotate(0) scale(1.0 1.0)"/>
<g transform="translate(160.5 675.5)"><path d="M-10 1 C-24 5 -38 16 -40 30 C-41 42 -32 51 -20 51 C-10 51 -5 44 -7 34 C-9 22 -5 12 0 5Z" fill="url(#abdC)" stroke="#a96b2c" stroke-width="0.6"/><path d="M-30 12 L-5 5 M-36 19 L-6 11" stroke="#6a3d14" stroke-width="2.4" fill="none"/><g transform="rotate(-28)"><path d="M-3 -6.5 C-22 -9 -58 -19 -76 -25 C-81 -27.5 -77 -30 -69 -29.5 C-46 -26.5 -18 -14 -3 -6.5Z" fill="#ece7e4" fill-opacity="0.62" stroke="#948c86" stroke-width="0.5"/><path d="M-1 -4 C-16 -5 -34 -10.5 -50 -9 C-62 -9.5 -76 -14 -84 -19 C-89 -22.5 -86 -26.5 -79 -26.5 C-56 -26 -20 -13.5 -1 -4Z" fill="#ece7e4" fill-opacity="0.62" stroke="#948c86" stroke-width="0.5"/><path d="M-2 -5 C-25 -11 -60 -20 -83 -22 M-4 -6 C-30 -15 -60 -23 -78 -25" fill="none" stroke="#948c86" stroke-width="0.4" opacity="0.7"/><path d="M-15 -2 C-16 -10 -13 -15.5 -7 -16 C-4 -17.5 4 -17.5 8 -15 C13 -12 15.5 -6 15 0 C14.5 8 10 14 3 16 C-4 17.5 -11 14 -14 8 C-15 5 -15 1 -15 -2Z" fill="#cf8a45" stroke="#a96b2c" stroke-width="0.6"/><ellipse cx="24.5" cy="4" rx="8.6" ry="13" fill="#cf8a45" stroke="#a96b2c" stroke-width="0.6"/><ellipse cx="26" cy="16" rx="4.2" ry="4" fill="#cf8a45" stroke="#a96b2c" stroke-width="0.5"/><ellipse cx="21.2" cy="2.8" rx="7" ry="9.3" fill="#ad1f2b"/><ellipse cx="21.8" cy="3.6" rx="4" ry="5.8" fill="#8c1721" opacity="0.55"/></g><line x1="6" y1="6" x2="16" y2="10" stroke="#a96b2c" stroke-width="4.9" stroke-linecap="round"/><line x1="16" y1="10" x2="20" y2="22" stroke="#a96b2c" stroke-width="3.1" stroke-linecap="round"/><line x1="20" y1="22" x2="26" y2="27" stroke="#a96b2c" stroke-width="2.3" stroke-linecap="round"/><line x1="6" y1="6" x2="16" y2="10" stroke="#c88847" stroke-width="4" stroke-linecap="round"/><line x1="16" y1="10" x2="20" y2="22" stroke="#c88847" stroke-width="2.2" stroke-linecap="round"/><line x1="20" y1="22" x2="26" y2="27" stroke="#c88847" stroke-width="1.4" stroke-linecap="round"/><line x1="-4" y1="12" x2="6" y2="16" stroke="#a96b2c" stroke-width="4.9" stroke-linecap="round"/><line x1="6" y1="16" x2="8" y2="34" stroke="#a96b2c" stroke-width="3.1" stroke-linecap="round"/><line x1="8" y1="34" x2="10" y2="44" stroke="#a96b2c" stroke-width="2.3" stroke-linecap="round"/><line x1="-4" y1="12" x2="6" y2="16" stroke="#c88847" stroke-width="4" stroke-linecap="round"/><line x1="6" y1="16" x2="8" y2="34" stroke="#c88847" stroke-width="2.2" stroke-linecap="round"/><line x1="8" y1="34" x2="10" y2="44" stroke="#c88847" stroke-width="1.4" stroke-linecap="round"/></g>
<g transform="translate(429.5 676.5)"><path d="M-10 1 C-24 5 -38 16 -40 30 C-41 42 -32 51 -20 51 C-10 51 -5 44 -7 34 C-9 22 -5 12 0 5Z" fill="url(#abdC)" stroke="#a96b2c" stroke-width="0.6"/><path d="M-30 12 L-5 5 M-36 19 L-6 11" stroke="#6a3d14" stroke-width="2.4" fill="none"/><g transform="rotate(-28)"><path d="M-3 -6.5 C-22 -9 -58 -19 -76 -25 C-81 -27.5 -77 -30 -69 -29.5 C-46 -26.5 -18 -14 -3 -6.5Z" fill="#ece7e4" fill-opacity="0.62" stroke="#948c86" stroke-width="0.5"/><path d="M-1 -4 C-16 -5 -34 -10.5 -50 -9 C-62 -9.5 -76 -14 -84 -19 C-89 -22.5 -86 -26.5 -79 -26.5 C-56 -26 -20 -13.5 -1 -4Z" fill="#ece7e4" fill-opacity="0.62" stroke="#948c86" stroke-width="0.5"/><path d="M-2 -5 C-25 -11 -60 -20 -83 -22 M-4 -6 C-30 -15 -60 -23 -78 -25" fill="none" stroke="#948c86" stroke-width="0.4" opacity="0.7"/><path d="M-15 -2 C-16 -10 -13 -15.5 -7 -16 C-4 -17.5 4 -17.5 8 -15 C13 -12 15.5 -6 15 0 C14.5 8 10 14 3 16 C-4 17.5 -11 14 -14 8 C-15 5 -15 1 -15 -2Z" fill="#cf8a45" stroke="#a96b2c" stroke-width="0.6"/><ellipse cx="24.5" cy="4" rx="8.6" ry="13" fill="#cf8a45" stroke="#a96b2c" stroke-width="0.6"/><ellipse cx="26" cy="16" rx="4.2" ry="4" fill="#cf8a45" stroke="#a96b2c" stroke-width="0.5"/><ellipse cx="21.2" cy="2.8" rx="7" ry="9.3" fill="#ad1f2b"/><ellipse cx="21.8" cy="3.6" rx="4" ry="5.8" fill="#8c1721" opacity="0.55"/></g><line x1="6" y1="6" x2="16" y2="10" stroke="#a96b2c" stroke-width="4.9" stroke-linecap="round"/><line x1="16" y1="10" x2="20" y2="22" stroke="#a96b2c" stroke-width="3.1" stroke-linecap="round"/><line x1="20" y1="22" x2="26" y2="27" stroke="#a96b2c" stroke-width="2.3" stroke-linecap="round"/><line x1="6" y1="6" x2="16" y2="10" stroke="#c88847" stroke-width="4" stroke-linecap="round"/><line x1="16" y1="10" x2="20" y2="22" stroke="#c88847" stroke-width="2.2" stroke-linecap="round"/><line x1="20" y1="22" x2="26" y2="27" stroke="#c88847" stroke-width="1.4" stroke-linecap="round"/><line x1="-4" y1="12" x2="6" y2="16" stroke="#a96b2c" stroke-width="4.9" stroke-linecap="round"/><line x1="6" y1="16" x2="8" y2="34" stroke="#a96b2c" stroke-width="3.1" stroke-linecap="round"/><line x1="8" y1="34" x2="10" y2="44" stroke="#a96b2c" stroke-width="2.3" stroke-linecap="round"/><line x1="-4" y1="12" x2="6" y2="16" stroke="#c88847" stroke-width="4" stroke-linecap="round"/><line x1="6" y1="16" x2="8" y2="34" stroke="#c88847" stroke-width="2.2" stroke-linecap="round"/><line x1="8" y1="34" x2="10" y2="44" stroke="#c88847" stroke-width="1.4" stroke-linecap="round"/></g>
<use href="#flyS" transform="translate(481 703.5) rotate(0) scale(1.0 1.0)"/>
<polygon points="1313.5,378.3 1306.3,380.6 1312.1,385.6 1304.5,385 1307.9,391.7 1301.2,388.3 1301.8,395.9 1296.8,390.1 1294.5,397.3 1292.2,390.1 1287.2,395.9 1287.8,388.3 1281.1,391.7 1284.5,385 1276.9,385.6 1282.7,380.6 1275.5,378.3 1282.7,376 1276.9,371 1284.5,371.6 1281.1,364.9 1287.8,368.3 1287.2,360.7 1292.2,366.5 1294.5,359.3 1296.8,366.5 1301.8,360.7 1301.2,368.3 1307.9,364.9 1304.5,371.6 1312.1,371 1306.3,376" fill="#86c8c6" fill-opacity="0.92" stroke="#8bb58a" stroke-width="1.2" stroke-linejoin="miter"/>
<use href="#flySm" transform="translate(1253.9 334.1) rotate(0) scale(-1.55 1.55)"/>
<use href="#flySm" transform="translate(1255.6 476.2) rotate(0) scale(-1.55 1.55)"/>
<polygon points="1248.7,456.5 1242,458.7 1247.3,463.4 1240.3,462.9 1243.4,469.2 1237.1,466.1 1237.6,473.1 1232.9,467.8 1230.7,474.5 1228.5,467.8 1223.8,473.1 1224.3,466.1 1218,469.2 1221.1,462.9 1214.1,463.4 1219.4,458.7 1212.7,456.5 1219.4,454.3 1214.1,449.6 1221.1,450.1 1218,443.8 1224.3,446.9 1223.8,439.9 1228.5,445.2 1230.7,438.5 1232.9,445.2 1237.6,439.9 1237.1,446.9 1243.4,443.8 1240.3,450.1 1247.3,449.6 1242,454.3" fill="#86c8c6" fill-opacity="0.92" stroke="#8bb58a" stroke-width="1.2" stroke-linejoin="miter"/>
<g transform="translate(1255.6 476.2)"><line x1="-6" y1="2" x2="-26" y2="-22" stroke="#a96b2c" stroke-width="7.9" stroke-linecap="round"/><line x1="-26" y1="-22" x2="-46" y2="-14" stroke="#a96b2c" stroke-width="5.1" stroke-linecap="round"/><line x1="-46" y1="-14" x2="-58" y2="-38" stroke="#a96b2c" stroke-width="3.3" stroke-linecap="round"/><line x1="-6" y1="2" x2="-26" y2="-22" stroke="#c88847" stroke-width="7" stroke-linecap="round"/><line x1="-26" y1="-22" x2="-46" y2="-14" stroke="#c88847" stroke-width="4.2" stroke-linecap="round"/><line x1="-46" y1="-14" x2="-58" y2="-38" stroke="#c88847" stroke-width="2.4" stroke-linecap="round"/></g>
<polygon points="1257.6,641.7 1250.4,644 1256.2,649 1248.6,648.4 1252,655.1 1245.3,651.7 1245.9,659.3 1240.9,653.5 1238.6,660.7 1236.3,653.5 1231.3,659.3 1231.9,651.7 1225.2,655.1 1228.6,648.4 1221,649 1226.8,644 1219.6,641.7 1226.8,639.4 1221,634.4 1228.6,635 1225.2,628.3 1231.9,631.7 1231.3,624.1 1236.3,629.9 1238.6,622.7 1240.9,629.9 1245.9,624.1 1245.3,631.7 1252,628.3 1248.6,635 1256.2,634.4 1250.4,639.4" fill="#86c8c6" fill-opacity="0.92" stroke="#8bb58a" stroke-width="1.2" stroke-linejoin="miter"/>
<use href="#flySm" transform="translate(1257.2 599.1) rotate(0) scale(-1.55 1.55)"/>
<path d="M148.4 1049.2V1339.7M171.9 1049.2V1339.7M195.4 1049.2V1339.7M218.9 1049.2V1339.7M242.4 1049.2V1339.7M265.9 1049.2V1339.7M289.3 1049.2V1339.7M312.8 1049.2V1339.7M336.3 1049.2V1339.7M359.8 1049.2V1339.7M383.3 1049.2V1339.7M406.8 1049.2V1339.7M430.3 1049.2V1339.7M130 1058.4H448.2M130 1080.6H448.2M130 1102.8H448.2M130 1125H448.2M130 1147.2H448.2M130 1169.5H448.2M130 1191.7H448.2M130 1213.9H448.2M130 1236.1H448.2M130 1258.3H448.2M130 1280.5H448.2M130 1302.7H448.2M130 1324.9H448.2" stroke="#d9d9d9" stroke-width="4.9" fill="none"/>
<path d="M480.4 1050.7V1332.6M502.6 1050.7V1332.6M524.8 1050.7V1332.6M547.1 1050.7V1332.6M569.3 1050.7V1332.6M591.5 1050.7V1332.6M613.7 1050.7V1332.6M635.9 1050.7V1332.6M658.2 1050.7V1332.6M680.4 1050.7V1332.6M702.6 1050.7V1332.6M724.8 1050.7V1332.6M747 1050.7V1332.6M462 1066.1H764.8M462 1087.2H764.8M462 1108.4H764.8M462 1129.5H764.8M462 1150.6H764.8M462 1171.8H764.8M462 1192.9H764.8M462 1214H764.8M462 1235.1H764.8M462 1256.3H764.8M462 1277.4H764.8M462 1298.5H764.8M462 1319.7H764.8" stroke="#d9d9d9" stroke-width="4.7" fill="none"/>
<path d="M320.1 1389.9V1688.3M343.2 1389.9V1688.3M366.2 1389.9V1688.3M389.3 1389.9V1688.3M412.3 1389.9V1688.3M435.4 1389.9V1688.3M458.5 1389.9V1688.3M481.5 1389.9V1688.3M504.6 1389.9V1688.3M527.6 1389.9V1688.3M550.7 1389.9V1688.3M573.8 1389.9V1688.3M596.8 1389.9V1688.3M302.4 1405.1H615.7M302.4 1427.3H615.7M302.4 1449.5H615.7M302.4 1471.6H615.7M302.4 1493.8H615.7M302.4 1516H615.7M302.4 1538.2H615.7M302.4 1560.4H615.7M302.4 1582.5H615.7M302.4 1604.7H615.7M302.4 1626.9H615.7M302.4 1649.1H615.7M302.4 1671.3H615.7" stroke="#d9d9d9" stroke-width="4.9" fill="none"/>
<path d="M156.7 1192.1A133.1 130.6 0 1 0 422.9 1192.1A133.1 130.6 0 1 0 156.7 1192.1ZM161.7 1189.6A128.1 119.1 0 1 0 417.9 1189.6A128.1 119.1 0 1 0 161.7 1189.6Z" fill-rule="evenodd" fill="#f6fafb" fill-opacity="0.86"/><ellipse cx="289.8" cy="1189.6" rx="128.1" ry="119.1" fill="#edf0fc" fill-opacity="0.7" stroke="#9098c6" stroke-width="1.1"/><ellipse cx="289.8" cy="1192.9" rx="129.7" ry="126.4" fill="none" stroke="#c3d2d6" stroke-width="1"/><ellipse cx="289.8" cy="1192.1" rx="133.1" ry="130.6" fill="none" stroke="#989da2" stroke-width="1.5"/>
<path d="M487.5 1192.9A126.3 123.7 0 1 0 740.1 1192.9A126.3 123.7 0 1 0 487.5 1192.9ZM492.5 1190.4A121.3 112.2 0 1 0 735.1 1190.4A121.3 112.2 0 1 0 492.5 1190.4Z" fill-rule="evenodd" fill="#f6fafb" fill-opacity="0.86"/><ellipse cx="613.8" cy="1190.4" rx="121.3" ry="112.2" fill="#edf0fc" fill-opacity="0.7" stroke="#9098c6" stroke-width="1.1"/><ellipse cx="613.8" cy="1193.7" rx="122.9" ry="119.5" fill="none" stroke="#c3d2d6" stroke-width="1"/><ellipse cx="613.8" cy="1192.9" rx="126.3" ry="123.7" fill="none" stroke="#989da2" stroke-width="1.5"/>
<path d="M329.5 1538.6A130.2 130.2 0 1 0 589.9 1538.6A130.2 130.2 0 1 0 329.5 1538.6ZM334.5 1536.1A125.2 118.7 0 1 0 584.9 1536.1A125.2 118.7 0 1 0 334.5 1536.1Z" fill-rule="evenodd" fill="#f6fafb" fill-opacity="0.86"/><ellipse cx="459.7" cy="1536.1" rx="125.2" ry="118.7" fill="#edf0fc" fill-opacity="0.7" stroke="#9098c6" stroke-width="1.1"/><ellipse cx="459.7" cy="1539.4" rx="126.8" ry="126" fill="none" stroke="#c3d2d6" stroke-width="1"/><ellipse cx="459.7" cy="1538.6" rx="130.2" ry="130.2" fill="none" stroke="#989da2" stroke-width="1.5"/>
<use href="#larva" transform="translate(288.9 1207.5) rotate(-90) scale(0.93 0.93)"/>
<path d="M289.8 1175V1131" stroke="#333" stroke-width="1.7" stroke-dasharray="4.2 3" fill="none"/><path d="M289.8 1123.5L293.8 1131.5H285.8Z" fill="#333"/>
<use href="#larva" transform="translate(613.2 1126.7) rotate(-90) scale(0.875 0.95)"/>
<ellipse cx="613.6" cy="1193" rx="7.6" ry="12.8" fill="#e9ca8e" stroke="#dcb876" stroke-width="0.6"/>
<use href="#larva" transform="translate(612.6 1256.7) rotate(-90) scale(0.875 0.95)"/>
<path d="M613.3 1170V1162M613.3 1222V1214" stroke="#555" stroke-width="0.9" fill="none"/><path d="M613.3 1159.5l1.6 3.2h-3.2zM613.3 1211.5l1.6 3.2h-3.2z" fill="#555"/>
<use href="#larva" transform="translate(406.5 1526.6) rotate(90) scale(1.02 1.0)"/>
<use href="#larva" transform="translate(484 1499.1) rotate(0) scale(0.93 0.95)"/>
<use href="#larva" transform="translate(505.7 1582.6) rotate(42.9) scale(1.1 1.0)"/>
<path d="M412.4 1490.8 C420 1482 436 1480 447 1488.5" fill="none" stroke="#222" stroke-width="1.3"/><path d="M451.5 1491.5L443.5 1490.5L447.5 1484.5Z" fill="#222"/>
<path d="M513.5 1504 C524 1514 523 1524 506 1527 C486 1530 468 1532 473.5 1546" fill="none" stroke="#222" stroke-width="1.2"/><path d="M478.5 1552.5L471 1547.5L477 1544Z" fill="#222"/>
<g><rect x="725.4" y="451.2" width="51.3" height="177.8" fill="#b2fbf3" stroke="#000" stroke-width="4.7"/>
<rect x="809.6" y="536.2" width="51.3" height="92.8" fill="url(#pB2)" stroke="#000" stroke-width="4.7"/>
<rect x="894.1" y="507.4" width="51.3" height="121.7" fill="url(#pB3)" stroke="#000" stroke-width="4.7"/>
<rect x="978.6" y="508.4" width="51.3" height="120.7" fill="url(#pB4)" stroke="#000" stroke-width="4.7"/>
<g fill="#000"><circle cx="750.9" cy="340" r="3.5"/><circle cx="750.9" cy="350.5" r="3.5"/><circle cx="750.9" cy="365.8" r="3.5"/><circle cx="750.9" cy="380.4" r="3.5"/><circle cx="736.3" cy="387.7" r="3.5"/><circle cx="750.9" cy="390.5" r="3.5"/><circle cx="765.7" cy="409.3" r="3.5"/><circle cx="750.9" cy="414" r="3.5"/><circle cx="750.9" cy="421.1" r="3.5"/><circle cx="750.9" cy="431.2" r="3.5"/><circle cx="744.6" cy="456.3" r="3.5"/><circle cx="758" cy="456.3" r="3.5"/><circle cx="750.9" cy="472.3" r="3.5"/><circle cx="765.7" cy="493.9" r="3.5"/><circle cx="750.9" cy="497.5" r="3.5"/><circle cx="736.3" cy="501.5" r="3.5"/><circle cx="750.9" cy="508.5" r="3.5"/><circle cx="765.7" cy="519.8" r="3.5"/><circle cx="750.9" cy="523.3" r="3.5"/><circle cx="750.9" cy="548.5" r="3.5"/><circle cx="750.9" cy="564" r="3.5"/><circle cx="835.5" cy="468.1" r="3.5"/><circle cx="835.5" cy="479.4" r="3.5"/><circle cx="835.5" cy="497.5" r="3.5"/><circle cx="845.6" cy="497.5" r="3.5"/><circle cx="825.2" cy="504.5" r="3.5"/><circle cx="835.5" cy="512.3" r="3.5"/><circle cx="840.5" cy="519.8" r="3.5"/><circle cx="830.4" cy="522.8" r="3.5"/><circle cx="820.5" cy="526.8" r="3.5"/><circle cx="850.3" cy="526.8" r="3.5"/><circle cx="830.4" cy="533.9" r="3.5"/><circle cx="840.5" cy="531.5" r="3.5"/><circle cx="835.5" cy="537.4" r="3.5"/><circle cx="825.2" cy="545.7" r="3.5"/><circle cx="835.5" cy="539.8" r="3.5"/><circle cx="845.6" cy="540.9" r="3.5"/><circle cx="820.5" cy="555.8" r="3.5"/><circle cx="830.4" cy="559.8" r="3.5"/><circle cx="840.5" cy="556.2" r="3.5"/><circle cx="850.3" cy="555.8" r="3.5"/><circle cx="811.5" cy="552.7" r="3.5"/><circle cx="859.7" cy="555.1" r="3.5"/><circle cx="840.5" cy="564" r="3.5"/><circle cx="835.5" cy="627.9" r="3.5"/><circle cx="915" cy="395.2" r="3.5"/><circle cx="924.9" cy="395.2" r="3.5"/><circle cx="924.9" cy="413.5" r="3.5"/><circle cx="915" cy="416.8" r="3.5"/><circle cx="924.9" cy="423.9" r="3.5"/><circle cx="920.2" cy="431.2" r="3.5"/><circle cx="915" cy="438.7" r="3.5"/><circle cx="924.9" cy="438.7" r="3.5"/><circle cx="920.2" cy="449.3" r="3.5"/><circle cx="920.2" cy="457" r="3.5"/><circle cx="924.9" cy="468.1" r="3.5"/><circle cx="915" cy="472.3" r="3.5"/><circle cx="905.1" cy="479.4" r="3.5"/><circle cx="934.3" cy="482.2" r="3.5"/><circle cx="924.9" cy="486.9" r="3.5"/><circle cx="915" cy="489.2" r="3.5"/><circle cx="924.9" cy="501.5" r="3.5"/><circle cx="920.2" cy="504.5" r="3.5"/><circle cx="920.2" cy="534.4" r="3.5"/><circle cx="920.2" cy="548.5" r="3.5"/><circle cx="905.1" cy="559.8" r="3.5"/><circle cx="915" cy="559.8" r="3.5"/><circle cx="934.3" cy="563.3" r="3.5"/><circle cx="895" cy="559.8" r="3.5"/><circle cx="944.4" cy="564.5" r="3.5"/><circle cx="915" cy="566.8" r="3.5"/><circle cx="905.1" cy="570.8" r="3.5"/><circle cx="924.9" cy="570.8" r="3.5"/><circle cx="915" cy="578.6" r="3.5"/><circle cx="924.9" cy="578.6" r="3.5"/><circle cx="920.2" cy="585.6" r="3.5"/><circle cx="909.8" cy="592.7" r="3.5"/><circle cx="929.6" cy="589.1" r="3.5"/><circle cx="1004.3" cy="319.5" r="3.5"/><circle cx="996.1" cy="351.2" r="3.5"/><circle cx="1012.5" cy="355.7" r="3.5"/><circle cx="996.1" cy="438" r="3.5"/><circle cx="1012.5" cy="440.3" r="3.5"/><circle cx="1004.3" cy="455.6" r="3.5"/><circle cx="1004.3" cy="480.5" r="3.5"/><circle cx="1004.3" cy="492.8" r="3.5"/><circle cx="1004.3" cy="512.7" r="3.5"/><circle cx="1012.5" cy="535.8" r="3.5"/><circle cx="996.1" cy="543.3" r="3.5"/><circle cx="1012.5" cy="549.2" r="3.5"/><circle cx="996.1" cy="554.6" r="3.5"/><circle cx="996.1" cy="561.6" r="3.5"/><circle cx="1012.5" cy="565.6" r="3.5"/><circle cx="1004.3" cy="578.1" r="3.5"/><circle cx="1012.5" cy="588.4" r="3.5"/><circle cx="996.1" cy="592.7" r="3.5"/><circle cx="979.6" cy="533.9" r="3.5"/><circle cx="1029" cy="532.7" r="3.5"/><circle cx="979.6" cy="546.8" r="3.5"/><circle cx="1029" cy="548.7" r="3.5"/><circle cx="979.6" cy="555.1" r="3.5"/></g>
<path d="M736.5 434.7H765.5M736.5 463.8H765.5M751 434.7V463.8" stroke="#000" stroke-width="1.5" fill="none"/>
<path d="M820.8 526.4H849.8M820.8 540.2H849.8M835.3 526.4V540.2" stroke="#000" stroke-width="1.5" fill="none"/>
<path d="M905.2 493.7H934.2M905.2 516.3H934.2M919.7 493.7V516.3" stroke="#000" stroke-width="1.5" fill="none"/>
<path d="M989.8 489.2H1018.8M989.8 521.9H1018.8M1004.3 489.2V521.9" stroke="#000" stroke-width="1.5" fill="none"/>
<path d="M695.2 262.6V629.6" stroke="#000" stroke-width="3.6" fill="none" stroke-linecap="square"/>
<path d="M680.3 629.6H1060.7" stroke="#000" stroke-width="3.6" fill="none"/>
<path d="M680.2 262.6H695.2M680.2 336H695.2M680.2 409.4H695.2M680.2 482.8H695.2M680.2 556.2H695.2M680.2 629.6H695.2M751 629.6V645.1M835.3 629.6V645.1M919.7 629.6V645.1M1004.3 629.6V645.1" stroke="#000" stroke-width="3.6" fill="none"/>
<text x="672.5" y="271.8" font-size="25.7" font-weight="700" text-anchor="end">1.0</text>
<text x="672.5" y="345.2" font-size="25.7" font-weight="700" text-anchor="end">0.8</text>
<text x="672.5" y="418.6" font-size="25.7" font-weight="700" text-anchor="end">0.6</text>
<text x="672.5" y="492" font-size="25.7" font-weight="700" text-anchor="end">0.4</text>
<text x="672.5" y="565.4" font-size="25.7" font-weight="700" text-anchor="end">0.2</text>
<text x="672.5" y="638.8" font-size="25.7" font-weight="700" text-anchor="end">0.0</text>
<text transform="translate(615.3 446) rotate(-90)" font-size="29.6" font-weight="700" text-anchor="middle">Courtship Index</text>
<text transform="translate(757 667.6) rotate(-45)" font-size="27.5" font-weight="700" text-anchor="end">Control</text>
<text transform="translate(835.3 674.6) rotate(-45)" font-size="27.5" font-weight="700" text-anchor="end">0.01mM</text>
<text transform="translate(919.7 674.6) rotate(-45)" font-size="27.5" font-weight="700" text-anchor="end">0.1mM</text>
<text transform="translate(1004.3 674.6) rotate(-45)" font-size="27.5" font-weight="700" text-anchor="end">1mM</text>
<path d="M778.3 764.9H1062.1" stroke="#000" stroke-width="3.6" stroke-linecap="round" fill="none"/>
<text x="917.6" y="805" font-size="29.4" font-weight="700" text-anchor="middle">[BPS]</text>
<path d="M751 181.8V128.9H1004.3V298.6" stroke="#000" stroke-width="3.6" fill="none" stroke-linecap="round" stroke-linejoin="miter"/>
<path d="M751 224.5V202.5H919.7V373.8" stroke="#000" stroke-width="3.6" fill="none" stroke-linecap="round" stroke-linejoin="miter"/>
<path d="M751 318.6V275.8H835.3V447" stroke="#000" stroke-width="3.6" fill="none" stroke-linecap="round" stroke-linejoin="miter"/>
<line x1="877.5" y1="93.1" x2="877.5" y2="113.9" stroke="#000" stroke-width="4.4"/><line x1="868.5" y1="98.3" x2="886.5" y2="108.7" stroke="#000" stroke-width="4.4"/><line x1="868.5" y1="108.7" x2="886.5" y2="98.3" stroke="#000" stroke-width="4.4"/>
<line x1="835.3" y1="166.1" x2="835.3" y2="186.9" stroke="#000" stroke-width="4.4"/><line x1="826.3" y1="171.3" x2="844.3" y2="181.7" stroke="#000" stroke-width="4.4"/><line x1="826.3" y1="181.7" x2="844.3" y2="171.3" stroke="#000" stroke-width="4.4"/>
<line x1="782.2" y1="240.1" x2="782.2" y2="260.9" stroke="#000" stroke-width="4.4"/><line x1="773.2" y1="245.3" x2="791.2" y2="255.7" stroke="#000" stroke-width="4.4"/><line x1="773.2" y1="255.7" x2="791.2" y2="245.3" stroke="#000" stroke-width="4.4"/><line x1="804.2" y1="240.1" x2="804.2" y2="260.9" stroke="#000" stroke-width="4.4"/><line x1="795.2" y1="245.3" x2="813.2" y2="255.7" stroke="#000" stroke-width="4.4"/><line x1="795.2" y1="255.7" x2="813.2" y2="245.3" stroke="#000" stroke-width="4.4"/>
<text transform="translate(592.9 120) scale(0.95 1.03)" font-size="58.5">B</text></g>
<g><rect x="1544.8" y="468.5" width="47.3" height="171.2" fill="#b2fbf3" stroke="#000" stroke-width="4.7"/>
<rect x="1623.5" y="544.6" width="47.3" height="95.1" fill="url(#pD2)" stroke="#000" stroke-width="4.7"/>
<rect x="1702.3" y="542.2" width="47.3" height="97.4" fill="url(#pD3)" stroke="#000" stroke-width="4.7"/>
<rect x="1780.9" y="525.4" width="47.3" height="114.3" fill="url(#pD4)" stroke="#000" stroke-width="4.7"/>
<g fill="#000"><circle cx="1568.4" cy="340.9" r="3.3"/><circle cx="1568.4" cy="354.5" r="3.3"/><circle cx="1568.4" cy="368.1" r="3.3"/><circle cx="1554.6" cy="395.3" r="3.3"/><circle cx="1568.4" cy="395.3" r="3.3"/><circle cx="1582.2" cy="395.3" r="3.3"/><circle cx="1561.5" cy="422.5" r="3.3"/><circle cx="1575.3" cy="422.5" r="3.3"/><circle cx="1561.5" cy="436.1" r="3.3"/><circle cx="1575.3" cy="436.1" r="3.3"/><circle cx="1568.4" cy="449.8" r="3.3"/><circle cx="1568.4" cy="490.6" r="3.3"/><circle cx="1561.5" cy="504.2" r="3.3"/><circle cx="1575.3" cy="504.2" r="3.3"/><circle cx="1568.4" cy="517.8" r="3.3"/><circle cx="1554.6" cy="531.4" r="3.3"/><circle cx="1568.4" cy="531.4" r="3.3"/><circle cx="1582.2" cy="531.4" r="3.3"/><circle cx="1561.5" cy="545" r="3.3"/><circle cx="1575.3" cy="545" r="3.3"/><circle cx="1568.4" cy="558.6" r="3.3"/><circle cx="1568.4" cy="572.2" r="3.3"/><circle cx="1647.2" cy="436.1" r="3.3"/><circle cx="1647.2" cy="463.4" r="3.3"/><circle cx="1647.2" cy="477" r="3.3"/><circle cx="1647.2" cy="490.6" r="3.3"/><circle cx="1632" cy="504.2" r="3.3"/><circle cx="1647.2" cy="504.2" r="3.3"/><circle cx="1662.4" cy="504.2" r="3.3"/><circle cx="1639.6" cy="517.8" r="3.3"/><circle cx="1654.8" cy="517.8" r="3.3"/><circle cx="1632" cy="531.4" r="3.3"/><circle cx="1647.2" cy="531.4" r="3.3"/><circle cx="1662.4" cy="531.4" r="3.3"/><circle cx="1639.6" cy="545" r="3.3"/><circle cx="1654.8" cy="545" r="3.3"/><circle cx="1647.2" cy="558.6" r="3.3"/><circle cx="1639.6" cy="572.2" r="3.3"/><circle cx="1654.8" cy="572.2" r="3.3"/><circle cx="1639.6" cy="585.9" r="3.3"/><circle cx="1654.8" cy="585.9" r="3.3"/><circle cx="1624.4" cy="599.5" r="3.3"/><circle cx="1639.6" cy="599.5" r="3.3"/><circle cx="1654.8" cy="599.5" r="3.3"/><circle cx="1670" cy="599.5" r="3.3"/><circle cx="1647.2" cy="613.1" r="3.3"/><circle cx="1718.4" cy="477" r="3.3"/><circle cx="1733.6" cy="477" r="3.3"/><circle cx="1718.4" cy="490.6" r="3.3"/><circle cx="1733.6" cy="490.6" r="3.3"/><circle cx="1718.4" cy="504.2" r="3.3"/><circle cx="1733.6" cy="504.2" r="3.3"/><circle cx="1710.8" cy="517.8" r="3.3"/><circle cx="1726" cy="517.8" r="3.3"/><circle cx="1741.2" cy="517.8" r="3.3"/><circle cx="1726" cy="531.4" r="3.3"/><circle cx="1718.4" cy="545" r="3.3"/><circle cx="1733.6" cy="545" r="3.3"/><circle cx="1703.2" cy="558.6" r="3.3"/><circle cx="1718.4" cy="558.6" r="3.3"/><circle cx="1733.6" cy="558.6" r="3.3"/><circle cx="1748.8" cy="558.6" r="3.3"/><circle cx="1726" cy="572.2" r="3.3"/><circle cx="1718.4" cy="585.9" r="3.3"/><circle cx="1733.6" cy="585.9" r="3.3"/><circle cx="1726" cy="599.5" r="3.3"/><circle cx="1726" cy="613.1" r="3.3"/><circle cx="1804.6" cy="436.1" r="3.3"/><circle cx="1797" cy="463.4" r="3.3"/><circle cx="1812.2" cy="463.4" r="3.3"/><circle cx="1804.6" cy="490.6" r="3.3"/><circle cx="1797" cy="504.2" r="3.3"/><circle cx="1812.2" cy="504.2" r="3.3"/><circle cx="1797" cy="517.8" r="3.3"/><circle cx="1812.2" cy="517.8" r="3.3"/><circle cx="1797" cy="531.4" r="3.3"/><circle cx="1812.2" cy="531.4" r="3.3"/><circle cx="1781.8" cy="545" r="3.3"/><circle cx="1797" cy="545" r="3.3"/><circle cx="1812.2" cy="545" r="3.3"/><circle cx="1827.4" cy="545" r="3.3"/><circle cx="1797" cy="558.6" r="3.3"/><circle cx="1812.2" cy="558.6" r="3.3"/><circle cx="1797" cy="572.2" r="3.3"/><circle cx="1812.2" cy="572.2" r="3.3"/></g>
<path d="M1554.9 450.3H1581.9M1554.9 481.5H1581.9M1568.4 450.3V481.5" stroke="#000" stroke-width="1.5" fill="none"/>
<path d="M1633.7 531.4H1660.7M1633.7 550.9H1660.7M1647.2 531.4V550.9" stroke="#000" stroke-width="1.5" fill="none"/>
<path d="M1712.5 531.2H1739.5M1712.5 547.1H1739.5M1726 531.2V547.1" stroke="#000" stroke-width="1.5" fill="none"/>
<path d="M1791.1 513.6H1818.1M1791.1 531.7H1818.1M1804.6 513.6V531.7" stroke="#000" stroke-width="1.5" fill="none"/>
<path d="M1516.2 300V640.3" stroke="#000" stroke-width="3.6" fill="none" stroke-linecap="square"/>
<path d="M1501.6 640.3H1856.5" stroke="#000" stroke-width="3.6" fill="none"/>
<path d="M1502.7 300H1516.2M1502.7 368.1H1516.2M1502.7 436.1H1516.2M1502.7 504.2H1516.2M1502.7 572.2H1516.2M1502.7 640.3H1516.2M1508.2 322.7H1516.2M1508.2 345.4H1516.2M1508.2 390.8H1516.2M1508.2 413.5H1516.2M1508.2 458.8H1516.2M1508.2 481.5H1516.2M1508.2 526.9H1516.2M1508.2 549.6H1516.2M1508.2 594.9H1516.2M1508.2 617.6H1516.2M1568.4 640.3V655.8M1647.2 640.3V655.8M1726 640.3V655.8M1804.6 640.3V655.8" stroke="#000" stroke-width="3.6" fill="none"/>
<text x="1495.5" y="308.6" font-size="24" font-weight="700" text-anchor="end">25</text>
<text x="1495.5" y="376.7" font-size="24" font-weight="700" text-anchor="end">20</text>
<text x="1495.5" y="444.7" font-size="24" font-weight="700" text-anchor="end">15</text>
<text x="1495.5" y="512.8" font-size="24" font-weight="700" text-anchor="end">10</text>
<text x="1495.5" y="580.8" font-size="24" font-weight="700" text-anchor="end">5</text>
<text x="1495.5" y="648.9" font-size="24" font-weight="700" text-anchor="end">0</text>
<text transform="translate(1449.7 470) rotate(-90)" font-size="27.1" font-weight="700" text-anchor="middle">Grooming Bouts</text>
<text transform="translate(1574.4 678.3) rotate(-45)" font-size="25.6" font-weight="700" text-anchor="end">Control</text>
<text transform="translate(1651.6 679.8) rotate(-45)" font-size="25.6" font-weight="700" text-anchor="end">0.01mM</text>
<text transform="translate(1730.4 679.8) rotate(-45)" font-size="25.6" font-weight="700" text-anchor="end">0.1mM</text>
<text transform="translate(1809 679.8) rotate(-45)" font-size="25.6" font-weight="700" text-anchor="end">1mM</text>
<path d="M1585.8 766.8H1850.1" stroke="#000" stroke-width="3.6" stroke-linecap="round" fill="none"/>
<text x="1721.3" y="805.1" font-size="28" font-weight="700" text-anchor="middle">[BPS]</text>
<path d="M1568.4 213.4V164.1H1804.6V423.6" stroke="#000" stroke-width="3.6" fill="none" stroke-linecap="round" stroke-linejoin="miter"/>
<path d="M1568.4 252.9V231.9H1726V458" stroke="#000" stroke-width="3.6" fill="none" stroke-linecap="round" stroke-linejoin="miter"/>
<path d="M1568.4 321.4V300.4H1647.2V423.1" stroke="#000" stroke-width="3.6" fill="none" stroke-linecap="round" stroke-linejoin="miter"/>
<line x1="1676.5" y1="130.9" x2="1676.5" y2="150.3" stroke="#000" stroke-width="4.1"/><line x1="1668.2" y1="135.8" x2="1684.9" y2="145.4" stroke="#000" stroke-width="4.1"/><line x1="1668.2" y1="145.4" x2="1684.9" y2="135.8" stroke="#000" stroke-width="4.1"/><line x1="1697.1" y1="130.9" x2="1697.1" y2="150.3" stroke="#000" stroke-width="4.1"/><line x1="1688.7" y1="135.8" x2="1705.4" y2="145.4" stroke="#000" stroke-width="4.1"/><line x1="1688.7" y1="145.4" x2="1705.4" y2="135.8" stroke="#000" stroke-width="4.1"/>
<line x1="1616.5" y1="199.1" x2="1616.5" y2="218.5" stroke="#000" stroke-width="4.1"/><line x1="1608.1" y1="204" x2="1624.9" y2="213.6" stroke="#000" stroke-width="4.1"/><line x1="1608.1" y1="213.6" x2="1624.9" y2="204" stroke="#000" stroke-width="4.1"/><line x1="1637" y1="199.1" x2="1637" y2="218.5" stroke="#000" stroke-width="4.1"/><line x1="1628.7" y1="204" x2="1645.4" y2="213.6" stroke="#000" stroke-width="4.1"/><line x1="1628.7" y1="213.6" x2="1645.4" y2="204" stroke="#000" stroke-width="4.1"/><line x1="1657.6" y1="199.1" x2="1657.6" y2="218.5" stroke="#000" stroke-width="4.1"/><line x1="1649.2" y1="204" x2="1665.9" y2="213.6" stroke="#000" stroke-width="4.1"/><line x1="1649.2" y1="213.6" x2="1665.9" y2="204" stroke="#000" stroke-width="4.1"/><line x1="1678.1" y1="199.1" x2="1678.1" y2="218.5" stroke="#000" stroke-width="4.1"/><line x1="1669.7" y1="204" x2="1686.5" y2="213.6" stroke="#000" stroke-width="4.1"/><line x1="1669.7" y1="213.6" x2="1686.5" y2="204" stroke="#000" stroke-width="4.1"/>
<line x1="1577.2" y1="268.5" x2="1577.2" y2="287.9" stroke="#000" stroke-width="4.1"/><line x1="1568.8" y1="273.4" x2="1585.6" y2="283" stroke="#000" stroke-width="4.1"/><line x1="1568.8" y1="283" x2="1585.6" y2="273.4" stroke="#000" stroke-width="4.1"/><line x1="1597.7" y1="268.5" x2="1597.7" y2="287.9" stroke="#000" stroke-width="4.1"/><line x1="1589.4" y1="273.4" x2="1606.1" y2="283" stroke="#000" stroke-width="4.1"/><line x1="1589.4" y1="283" x2="1606.1" y2="273.4" stroke="#000" stroke-width="4.1"/><line x1="1618.3" y1="268.5" x2="1618.3" y2="287.9" stroke="#000" stroke-width="4.1"/><line x1="1609.9" y1="273.4" x2="1626.6" y2="283" stroke="#000" stroke-width="4.1"/><line x1="1609.9" y1="283" x2="1626.6" y2="273.4" stroke="#000" stroke-width="4.1"/><line x1="1638.8" y1="268.5" x2="1638.8" y2="287.9" stroke="#000" stroke-width="4.1"/><line x1="1630.4" y1="273.4" x2="1647.2" y2="283" stroke="#000" stroke-width="4.1"/><line x1="1630.4" y1="283" x2="1647.2" y2="273.4" stroke="#000" stroke-width="4.1"/>
<text transform="translate(1439.5 120) scale(0.91 1.03)" font-size="58.5">D</text></g>
<g><rect x="2021.8" y="553.4" width="49.3" height="86.5" fill="#b2fbf3" stroke="#000" stroke-width="4.7"/>
<rect x="2103.3" y="585.1" width="49.3" height="54.8" fill="url(#pE2)" stroke="#000" stroke-width="4.7"/>
<rect x="2184.9" y="546.1" width="49.3" height="93.8" fill="url(#pE3)" stroke="#000" stroke-width="4.7"/>
<rect x="2266.8" y="495.6" width="49.3" height="144.3" fill="url(#pE4)" stroke="#000" stroke-width="4.7"/>
<g fill="#000"><circle cx="2046.4" cy="414.7" r="3.4"/><circle cx="2046.4" cy="462.9" r="3.4"/><circle cx="2032.3" cy="495.1" r="3.4"/><circle cx="2046.4" cy="500.5" r="3.4"/><circle cx="2032.3" cy="519.8" r="3.4"/><circle cx="2046.4" cy="522.8" r="3.4"/><circle cx="2046.4" cy="533.4" r="3.4"/><circle cx="2032.3" cy="539.1" r="3.4"/><circle cx="2060.5" cy="539.1" r="3.4"/><circle cx="2032.3" cy="555.1" r="3.4"/><circle cx="2046.4" cy="559.3" r="3.4"/><circle cx="2060.5" cy="570.3" r="3.4"/><circle cx="2032.3" cy="576.2" r="3.4"/><circle cx="2046.4" cy="573.4" r="3.4"/><circle cx="2046.4" cy="581.4" r="3.4"/><circle cx="2060.5" cy="583.3" r="3.4"/><circle cx="2032.3" cy="584.4" r="3.4"/><circle cx="2046.4" cy="604.4" r="3.4"/><circle cx="2039.4" cy="616.2" r="3.4"/><circle cx="2053.5" cy="616.6" r="3.4"/><circle cx="2046.4" cy="626.8" r="3.4"/><circle cx="2128" cy="466.9" r="3.4"/><circle cx="2128" cy="511.6" r="3.4"/><circle cx="2116.2" cy="529.2" r="3.4"/><circle cx="2128" cy="532.3" r="3.4"/><circle cx="2116.2" cy="543.3" r="3.4"/><circle cx="2128" cy="544.5" r="3.4"/><circle cx="2139.7" cy="544.9" r="3.4"/><circle cx="2116.2" cy="563.3" r="3.4"/><circle cx="2128" cy="566.8" r="3.4"/><circle cx="2122.1" cy="578.6" r="3.4"/><circle cx="2133.9" cy="577.4" r="3.4"/><circle cx="2128" cy="589.1" r="3.4"/><circle cx="2128" cy="600.2" r="3.4"/><circle cx="2139.7" cy="600.9" r="3.4"/><circle cx="2116.2" cy="604.9" r="3.4"/><circle cx="2105.7" cy="598.5" r="3.4"/><circle cx="2116.2" cy="619.7" r="3.4"/><circle cx="2128" cy="620.9" r="3.4"/><circle cx="2139.7" cy="617.8" r="3.4"/><circle cx="2151.5" cy="620.9" r="3.4"/><circle cx="2116.2" cy="626.8" r="3.4"/><circle cx="2139.7" cy="627.5" r="3.4"/><circle cx="2128" cy="635" r="3.4"/><circle cx="2209.6" cy="353.6" r="3.4"/><circle cx="2209.6" cy="426.9" r="3.4"/><circle cx="2209.6" cy="464.6" r="3.4"/><circle cx="2209.6" cy="475.1" r="3.4"/><circle cx="2209.6" cy="487.6" r="3.4"/><circle cx="2186" cy="508.7" r="3.4"/><circle cx="2217.8" cy="507.3" r="3.4"/><circle cx="2201.6" cy="512.7" r="3.4"/><circle cx="2217.8" cy="515.8" r="3.4"/><circle cx="2202" cy="561.4" r="3.4"/><circle cx="2202" cy="576.2" r="3.4"/><circle cx="2217.3" cy="580.4" r="3.4"/><circle cx="2202" cy="585.1" r="3.4"/><circle cx="2202" cy="592.7" r="3.4"/><circle cx="2217.3" cy="591.5" r="3.4"/><circle cx="2202" cy="610.3" r="3.4"/><circle cx="2217.3" cy="608.4" r="3.4"/><circle cx="2202" cy="631.5" r="3.4"/><circle cx="2217.3" cy="628.4" r="3.4"/><circle cx="2185.6" cy="555.1" r="3.4"/><circle cx="2233.8" cy="555.1" r="3.4"/><circle cx="2185.6" cy="585.6" r="3.4"/><circle cx="2233.8" cy="579.7" r="3.4"/><circle cx="2267.9" cy="426.5" r="3.4"/><circle cx="2279.6" cy="423.9" r="3.4"/><circle cx="2291.4" cy="431.6" r="3.4"/><circle cx="2303.1" cy="429.3" r="3.4"/><circle cx="2315.3" cy="428.1" r="3.4"/><circle cx="2291.4" cy="438.7" r="3.4"/><circle cx="2291.4" cy="450.4" r="3.4"/><circle cx="2303.1" cy="455.9" r="3.4"/><circle cx="2279.6" cy="461.5" r="3.4"/><circle cx="2291.4" cy="459.8" r="3.4"/><circle cx="2291.4" cy="524.5" r="3.4"/><circle cx="2279.6" cy="535.1" r="3.4"/><circle cx="2303.1" cy="537.4" r="3.4"/><circle cx="2291.4" cy="542.6" r="3.4"/><circle cx="2279.6" cy="568.7" r="3.4"/><circle cx="2303.1" cy="571" r="3.4"/><circle cx="2291.4" cy="576.2" r="3.4"/><circle cx="2291.4" cy="613.1" r="3.4"/></g>
<path d="M2032.4 539.8H2060.4M2032.4 561.6H2060.4M2046.4 539.8V561.6" stroke="#000" stroke-width="1.5" fill="none"/>
<path d="M2114 574.3H2142M2114 591H2142M2128 574.3V591" stroke="#000" stroke-width="1.5" fill="none"/>
<path d="M2195.6 529H2223.6M2195.6 557.9H2223.6M2209.6 529V557.9" stroke="#000" stroke-width="1.5" fill="none"/>
<path d="M2277.4 478H2305.4M2277.4 508H2305.4M2291.4 478V508" stroke="#000" stroke-width="1.5" fill="none"/>
<path d="M1992.3 288V640.5" stroke="#000" stroke-width="3.6" fill="none" stroke-linecap="square"/>
<path d="M1977.5 640.5H2345.6" stroke="#000" stroke-width="3.6" fill="none"/>
<path d="M1977.5 288H1992.3M1977.5 376.1H1992.3M1977.5 464.2H1992.3M1977.5 552.4H1992.3M1977.5 640.5H1992.3M1984.1 310H1992.3M1984.1 332.1H1992.3M1984.1 354.1H1992.3M1984.1 398.2H1992.3M1984.1 420.2H1992.3M1984.1 442.2H1992.3M1984.1 486.3H1992.3M1984.1 508.3H1992.3M1984.1 530.3H1992.3M1984.1 574.4H1992.3M1984.1 596.4H1992.3M1984.1 618.5H1992.3M2046.4 640.5V656M2128 640.5V656M2209.6 640.5V656M2291.4 640.5V656" stroke="#000" stroke-width="3.6" fill="none"/>
<text x="1971.5" y="296.9" font-size="24.9" font-weight="700" text-anchor="end">200</text>
<text x="1971.5" y="385" font-size="24.9" font-weight="700" text-anchor="end">150</text>
<text x="1971.5" y="473.2" font-size="24.9" font-weight="700" text-anchor="end">100</text>
<text x="1971.5" y="561.3" font-size="24.9" font-weight="700" text-anchor="end">50</text>
<text x="1971.5" y="649.4" font-size="24.9" font-weight="700" text-anchor="end">0</text>
<text transform="translate(1909 464.5) rotate(-90)" font-size="28.2" font-weight="700" text-anchor="middle">Grooming Time (sec)</text>
<text transform="translate(2052.4 678.5) rotate(-45)" font-size="26.6" font-weight="700" text-anchor="end">Control</text>
<text transform="translate(2133.2 681.3) rotate(-45)" font-size="26.6" font-weight="700" text-anchor="end">0.01mM</text>
<text transform="translate(2214.8 681.3) rotate(-45)" font-size="26.6" font-weight="700" text-anchor="end">0.1mM</text>
<text transform="translate(2296.6 681.3) rotate(-45)" font-size="26.6" font-weight="700" text-anchor="end">1mM</text>
<path d="M2065.6 766.8H2340.1" stroke="#000" stroke-width="3.6" stroke-linecap="round" fill="none"/>
<text x="2206.3" y="802.1" font-size="28.8" font-weight="700" text-anchor="middle">[BPS]</text>
<path d="M2046.4 215.2V158.3H2291.4V404.4" stroke="#000" stroke-width="3.6" fill="none" stroke-linecap="round" stroke-linejoin="miter"/>
<path d="M2046.4 292.3V235.1H2209.6V333.4" stroke="#000" stroke-width="3.6" fill="none" stroke-linecap="round" stroke-linejoin="miter"/>
<path d="M2046.4 394.5V312.3H2128V446.7" stroke="#000" stroke-width="3.6" fill="none" stroke-linecap="round" stroke-linejoin="miter"/>
<line x1="2168.7" y1="124" x2="2168.7" y2="144.2" stroke="#000" stroke-width="4.3"/><line x1="2160" y1="129.1" x2="2177.4" y2="139.1" stroke="#000" stroke-width="4.3"/><line x1="2160" y1="139.1" x2="2177.4" y2="129.1" stroke="#000" stroke-width="4.3"/>
<text x="2128.7" y="215.9" font-size="28.4" text-anchor="middle">ns</text>
<text x="2087.3" y="292.7" font-size="28.4" text-anchor="middle">ns</text>
<text transform="translate(1899.5 120) scale(0.89 1.03)" font-size="58.5">E</text></g>
<g><rect x="1009.6" y="1369.8" width="50" height="160.4" fill="#aafaf2" stroke="#000" stroke-width="4.7"/>
<rect x="1093.1" y="1386.8" width="50" height="143.3" fill="url(#pG2)" stroke="#000" stroke-width="4.7"/>
<rect x="1176.3" y="1373.9" width="50" height="156.2" fill="url(#pG3)" stroke="#000" stroke-width="4.7"/>
<rect x="1259.5" y="1404.5" width="50" height="125.6" fill="#8b3a76" stroke="#000" stroke-width="4.7"/>
<g fill="#000"><circle cx="1028.6" cy="1272.2" r="3.5"/><circle cx="1040.8" cy="1272.2" r="3.5"/><circle cx="1034.4" cy="1284.6" r="3.5"/><circle cx="1034.4" cy="1308.6" r="3.5"/><circle cx="1059.1" cy="1320.6" r="3.5"/><circle cx="1010.5" cy="1326.9" r="3.5"/><circle cx="1034.4" cy="1326.9" r="3.5"/><circle cx="1046.9" cy="1326.9" r="3.5"/><circle cx="1022.7" cy="1332.8" r="3.5"/><circle cx="1059.1" cy="1332.8" r="3.5"/><circle cx="1034.4" cy="1338.7" r="3.5"/><circle cx="1046.9" cy="1338.7" r="3.5"/><circle cx="1022.7" cy="1356.3" r="3.5"/><circle cx="1034.4" cy="1362.2" r="3.5"/><circle cx="1046.9" cy="1362.2" r="3.5"/><circle cx="1022.7" cy="1374.4" r="3.5"/><circle cx="1034.4" cy="1374.4" r="3.5"/><circle cx="1010.5" cy="1380.5" r="3.5"/><circle cx="1046.9" cy="1380.5" r="3.5"/><circle cx="1059.1" cy="1380.5" r="3.5"/><circle cx="1034.4" cy="1386.9" r="3.5"/><circle cx="1046.9" cy="1398.6" r="3.5"/><circle cx="1022.7" cy="1404.5" r="3.5"/><circle cx="1034.4" cy="1404.5" r="3.5"/><circle cx="1046.9" cy="1410.4" r="3.5"/><circle cx="1022.7" cy="1416.3" r="3.5"/><circle cx="1034.4" cy="1422.1" r="3.5"/><circle cx="1046.9" cy="1422.1" r="3.5"/><circle cx="1034.4" cy="1434.6" r="3.5"/><circle cx="1028.6" cy="1465.2" r="3.5"/><circle cx="1040.8" cy="1465.2" r="3.5"/><circle cx="1118.1" cy="1236.4" r="3.5"/><circle cx="1118.1" cy="1278.3" r="3.5"/><circle cx="1118.1" cy="1296.4" r="3.5"/><circle cx="1118.1" cy="1308.6" r="3.5"/><circle cx="1118.1" cy="1332.8" r="3.5"/><circle cx="1132.7" cy="1344.6" r="3.5"/><circle cx="1103.3" cy="1350.4" r="3.5"/><circle cx="1113.4" cy="1350.4" r="3.5"/><circle cx="1122.8" cy="1350.4" r="3.5"/><circle cx="1093.9" cy="1368.5" r="3.5"/><circle cx="1142.1" cy="1368.5" r="3.5"/><circle cx="1103.3" cy="1374.4" r="3.5"/><circle cx="1113.4" cy="1374.4" r="3.5"/><circle cx="1122.8" cy="1374.4" r="3.5"/><circle cx="1132.7" cy="1374.4" r="3.5"/><circle cx="1113.4" cy="1386.9" r="3.5"/><circle cx="1122.8" cy="1386.9" r="3.5"/><circle cx="1103.3" cy="1410.4" r="3.5"/><circle cx="1132.7" cy="1410.4" r="3.5"/><circle cx="1113.4" cy="1416.3" r="3.5"/><circle cx="1103.3" cy="1422.1" r="3.5"/><circle cx="1132.7" cy="1422.1" r="3.5"/><circle cx="1113.4" cy="1428.5" r="3.5"/><circle cx="1122.8" cy="1428.5" r="3.5"/><circle cx="1142.1" cy="1428.5" r="3.5"/><circle cx="1103.3" cy="1434.6" r="3.5"/><circle cx="1113.4" cy="1440.9" r="3.5"/><circle cx="1132.7" cy="1440.9" r="3.5"/><circle cx="1122.8" cy="1446.8" r="3.5"/><circle cx="1118.1" cy="1489.1" r="3.5"/><circle cx="1201.3" cy="1272.2" r="3.5"/><circle cx="1193.4" cy="1284.6" r="3.5"/><circle cx="1209.1" cy="1290.5" r="3.5"/><circle cx="1193.4" cy="1302.5" r="3.5"/><circle cx="1177.4" cy="1308.6" r="3.5"/><circle cx="1225.6" cy="1308.6" r="3.5"/><circle cx="1193.4" cy="1314.7" r="3.5"/><circle cx="1209.1" cy="1314.7" r="3.5"/><circle cx="1201.3" cy="1338.7" r="3.5"/><circle cx="1201.3" cy="1350.4" r="3.5"/><circle cx="1193.4" cy="1362.2" r="3.5"/><circle cx="1209.1" cy="1368.5" r="3.5"/><circle cx="1193.4" cy="1374.4" r="3.5"/><circle cx="1209.1" cy="1386.9" r="3.5"/><circle cx="1209.1" cy="1398.6" r="3.5"/><circle cx="1177.4" cy="1398.6" r="3.5"/><circle cx="1225.6" cy="1392.8" r="3.5"/><circle cx="1193.4" cy="1410.4" r="3.5"/><circle cx="1209.1" cy="1410.4" r="3.5"/><circle cx="1193.4" cy="1428.5" r="3.5"/><circle cx="1209.1" cy="1434.6" r="3.5"/><circle cx="1177.4" cy="1434.6" r="3.5"/><circle cx="1225.6" cy="1434.6" r="3.5"/><circle cx="1201.3" cy="1446.8" r="3.5"/><circle cx="1201.3" cy="1483.3" r="3.5"/><circle cx="1284.3" cy="1272.2" r="3.5"/><circle cx="1260.8" cy="1344.6" r="3.5"/><circle cx="1279.6" cy="1344.6" r="3.5"/><circle cx="1270.2" cy="1350.4" r="3.5"/><circle cx="1289" cy="1350.4" r="3.5"/><circle cx="1299.1" cy="1350.4" r="3.5"/><circle cx="1279.6" cy="1356.3" r="3.5"/><circle cx="1279.6" cy="1380.5" r="3.5"/><circle cx="1260.8" cy="1386.9" r="3.5"/><circle cx="1270.2" cy="1386.9" r="3.5"/><circle cx="1289" cy="1386.9" r="3.5"/><circle cx="1309" cy="1386.9" r="3.5"/><circle cx="1299.1" cy="1392.8" r="3.5"/><circle cx="1270.2" cy="1398.6" r="3.5"/><circle cx="1289" cy="1398.6" r="3.5"/><circle cx="1270.2" cy="1410.4" r="3.5"/><circle cx="1279.6" cy="1410.4" r="3.5"/><circle cx="1289" cy="1410.4" r="3.5"/><circle cx="1279.6" cy="1416.3" r="3.5"/><circle cx="1279.6" cy="1428.5" r="3.5"/><circle cx="1289" cy="1434.6" r="3.5"/><circle cx="1279.6" cy="1440.9" r="3.5"/><circle cx="1289" cy="1453.2" r="3.5"/><circle cx="1299.1" cy="1453.2" r="3.5"/><circle cx="1270.2" cy="1459.1" r="3.5"/><circle cx="1279.6" cy="1465.2" r="3.5"/><circle cx="1289" cy="1465.2" r="3.5"/><circle cx="1299.1" cy="1465.2" r="3.5"/><circle cx="1284.3" cy="1483.3" r="3.5"/></g>
<path d="M1020.3 1357.5H1048.9M1020.3 1376.3H1048.9M1034.6 1357.5V1376.3" stroke="#000" stroke-width="1.5" fill="none"/>
<path d="M1103.8 1375.1H1132.4M1103.8 1394.2H1132.4M1118.1 1375.1V1394.2" stroke="#000" stroke-width="1.5" fill="none"/>
<path d="M1187 1360.3H1215.6M1187 1382.7H1215.6M1201.3 1360.3V1382.7" stroke="#000" stroke-width="1.5" fill="none"/>
<path d="M1270.2 1393.5H1298.8M1270.2 1410.9H1298.8M1284.5 1393.5V1410.9" stroke="#000" stroke-width="1.5" fill="none"/>
<path d="M979.9 1168.6V1530.7" stroke="#000" stroke-width="3.6" fill="none" stroke-linecap="square"/>
<path d="M964.2 1530.7H1340.3" stroke="#000" stroke-width="3.6" fill="none"/>
<path d="M964.6 1168.6H979.9M964.6 1289.3H979.9M964.6 1410H979.9M964.6 1530.7H979.9M971.2 1208.9H979.9M971.2 1249H979.9M971.2 1329.6H979.9M971.2 1369.7H979.9M971.2 1450.3H979.9M971.2 1490.4H979.9M1034.6 1530.7V1546.2M1118.1 1530.7V1546.2M1201.3 1530.7V1546.2M1284.5 1530.7V1546.2" stroke="#000" stroke-width="3.6" fill="none"/>
<text x="959.1" y="1177.7" font-size="25.4" font-weight="700" text-anchor="end">6</text>
<text x="959.1" y="1298.4" font-size="25.4" font-weight="700" text-anchor="end">4</text>
<text x="959.1" y="1419.1" font-size="25.4" font-weight="700" text-anchor="end">2</text>
<text x="959.1" y="1539.8" font-size="25.4" font-weight="700" text-anchor="end">0</text>
<text transform="translate(920.8 1351) rotate(-90)" font-size="28.5" font-weight="700" text-anchor="middle">Distance Traveled (cm)</text>
<text transform="translate(1034.4 1575.1) rotate(-45)" font-size="27.1" font-weight="700" text-anchor="end">Control</text>
<text transform="translate(1118.2 1575.6) rotate(-45)" font-size="27.1" font-weight="700" text-anchor="end">0.01mM</text>
<text transform="translate(1201.4 1575.6) rotate(-45)" font-size="27.1" font-weight="700" text-anchor="end">0.1mM</text>
<text transform="translate(1284.6 1575.6) rotate(-45)" font-size="27.1" font-weight="700" text-anchor="end">1mM</text>
<path d="M1061 1663.4H1339.9" stroke="#000" stroke-width="3.6" stroke-linecap="round" fill="none"/>
<text x="1197.5" y="1703.8" font-size="29" font-weight="700" text-anchor="middle">[BPS]</text>
<path d="M1034.6 1094.4V1036.4H1284.5V1251.5" stroke="#000" stroke-width="3.6" fill="none" stroke-linecap="round" stroke-linejoin="miter"/>
<path d="M1034.6 1172.7V1115.1H1201.3V1251.5" stroke="#000" stroke-width="3.6" fill="none" stroke-linecap="round" stroke-linejoin="miter"/>
<path d="M1034.6 1251.5V1193.4H1118.1V1215" stroke="#000" stroke-width="3.6" fill="none" stroke-linecap="round" stroke-linejoin="miter"/>
<line x1="1159.3" y1="1000.2" x2="1159.3" y2="1020.8" stroke="#000" stroke-width="4.3"/><line x1="1150.4" y1="1005.4" x2="1168.2" y2="1015.6" stroke="#000" stroke-width="4.3"/><line x1="1150.4" y1="1015.6" x2="1168.2" y2="1005.4" stroke="#000" stroke-width="4.3"/>
<text x="1118.6" y="1095.6" font-size="28.9" text-anchor="middle">ns</text>
<text x="1077" y="1173.9" font-size="28.9" text-anchor="middle">ns</text>
<text transform="translate(906.5 992.2) scale(0.95 1.03)" font-size="58.5">G</text></g>
<g><rect x="1506.5" y="1364.5" width="49" height="166.8" fill="#aafaf2" stroke="#000" stroke-width="4.7"/>
<rect x="1588.8" y="1357.9" width="49" height="173.4" fill="url(#pH2)" stroke="#000" stroke-width="4.7"/>
<rect x="1670.7" y="1333.5" width="49" height="197.8" fill="url(#pH3)" stroke="#000" stroke-width="4.7"/>
<rect x="1752.9" y="1387.5" width="49" height="143.8" fill="#8b3a76" stroke="#000" stroke-width="4.7"/>
<g fill="#000"><circle cx="1531" cy="1271.2" r="3.5"/><circle cx="1543.2" cy="1277.1" r="3.5"/><circle cx="1531" cy="1283" r="3.5"/><circle cx="1531" cy="1307" r="3.5"/><circle cx="1519.3" cy="1318.7" r="3.5"/><circle cx="1543.2" cy="1318.7" r="3.5"/><circle cx="1531" cy="1324.6" r="3.5"/><circle cx="1519.3" cy="1330.5" r="3.5"/><circle cx="1543.2" cy="1330.5" r="3.5"/><circle cx="1531" cy="1336.3" r="3.5"/><circle cx="1543.2" cy="1342.2" r="3.5"/><circle cx="1507" cy="1348.1" r="3.5"/><circle cx="1519.3" cy="1348.1" r="3.5"/><circle cx="1531" cy="1354" r="3.5"/><circle cx="1543.2" cy="1354" r="3.5"/><circle cx="1519.3" cy="1372.3" r="3.5"/><circle cx="1531" cy="1378.2" r="3.5"/><circle cx="1543.2" cy="1378.2" r="3.5"/><circle cx="1507" cy="1384.1" r="3.5"/><circle cx="1519.3" cy="1389.9" r="3.5"/><circle cx="1531" cy="1389.9" r="3.5"/><circle cx="1543.2" cy="1389.9" r="3.5"/><circle cx="1555" cy="1389.9" r="3.5"/><circle cx="1531" cy="1401.7" r="3.5"/><circle cx="1519.3" cy="1407.6" r="3.5"/><circle cx="1531" cy="1413.9" r="3.5"/><circle cx="1531" cy="1425.7" r="3.5"/><circle cx="1537.4" cy="1460.9" r="3.5"/><circle cx="1525.1" cy="1466.8" r="3.5"/><circle cx="1625.1" cy="1235.7" r="3.5"/><circle cx="1601.1" cy="1241.8" r="3.5"/><circle cx="1613.3" cy="1247.7" r="3.5"/><circle cx="1625.1" cy="1289.3" r="3.5"/><circle cx="1613.3" cy="1295.2" r="3.5"/><circle cx="1613.3" cy="1312.8" r="3.5"/><circle cx="1589.3" cy="1324.6" r="3.5"/><circle cx="1613.3" cy="1324.6" r="3.5"/><circle cx="1637.3" cy="1324.6" r="3.5"/><circle cx="1601.1" cy="1330.5" r="3.5"/><circle cx="1613.3" cy="1336.3" r="3.5"/><circle cx="1625.1" cy="1336.3" r="3.5"/><circle cx="1625.1" cy="1354" r="3.5"/><circle cx="1601.1" cy="1366.2" r="3.5"/><circle cx="1613.3" cy="1366.2" r="3.5"/><circle cx="1625.1" cy="1366.2" r="3.5"/><circle cx="1625.1" cy="1378.2" r="3.5"/><circle cx="1613.3" cy="1384.1" r="3.5"/><circle cx="1601.1" cy="1389.9" r="3.5"/><circle cx="1625.1" cy="1389.9" r="3.5"/><circle cx="1613.3" cy="1395.8" r="3.5"/><circle cx="1589.3" cy="1407.6" r="3.5"/><circle cx="1613.3" cy="1407.6" r="3.5"/><circle cx="1625.1" cy="1407.6" r="3.5"/><circle cx="1601.1" cy="1413.9" r="3.5"/><circle cx="1637.3" cy="1413.9" r="3.5"/><circle cx="1613.3" cy="1419.8" r="3.5"/><circle cx="1625.1" cy="1419.8" r="3.5"/><circle cx="1601.1" cy="1425.7" r="3.5"/><circle cx="1695.1" cy="1200" r="3.5"/><circle cx="1695.1" cy="1211.8" r="3.5"/><circle cx="1695.1" cy="1229.9" r="3.5"/><circle cx="1695.1" cy="1253.6" r="3.5"/><circle cx="1687.3" cy="1277.1" r="3.5"/><circle cx="1702.9" cy="1277.1" r="3.5"/><circle cx="1695.1" cy="1289.3" r="3.5"/><circle cx="1702.9" cy="1307" r="3.5"/><circle cx="1687.3" cy="1312.8" r="3.5"/><circle cx="1719.3" cy="1312.8" r="3.5"/><circle cx="1671.6" cy="1318.7" r="3.5"/><circle cx="1702.9" cy="1318.7" r="3.5"/><circle cx="1687.3" cy="1324.6" r="3.5"/><circle cx="1695.1" cy="1336.3" r="3.5"/><circle cx="1695.1" cy="1348.1" r="3.5"/><circle cx="1702.9" cy="1366.2" r="3.5"/><circle cx="1687.3" cy="1372.3" r="3.5"/><circle cx="1687.3" cy="1384.1" r="3.5"/><circle cx="1671.6" cy="1389.9" r="3.5"/><circle cx="1702.9" cy="1389.9" r="3.5"/><circle cx="1718.6" cy="1389.9" r="3.5"/><circle cx="1679.4" cy="1401.7" r="3.5"/><circle cx="1695.1" cy="1401.7" r="3.5"/><circle cx="1710.9" cy="1401.7" r="3.5"/><circle cx="1695.1" cy="1449.2" r="3.5"/><circle cx="1777.4" cy="1283" r="3.5"/><circle cx="1777.4" cy="1301.1" r="3.5"/><circle cx="1782.6" cy="1330.5" r="3.5"/><circle cx="1790.8" cy="1336.3" r="3.5"/><circle cx="1772.7" cy="1342.2" r="3.5"/><circle cx="1782.6" cy="1342.2" r="3.5"/><circle cx="1767.3" cy="1360.3" r="3.5"/><circle cx="1777.4" cy="1360.3" r="3.5"/><circle cx="1786.1" cy="1360.3" r="3.5"/><circle cx="1753.2" cy="1378.2" r="3.5"/><circle cx="1762.6" cy="1378.2" r="3.5"/><circle cx="1772.7" cy="1378.2" r="3.5"/><circle cx="1782.6" cy="1378.2" r="3.5"/><circle cx="1792" cy="1378.2" r="3.5"/><circle cx="1801.4" cy="1378.2" r="3.5"/><circle cx="1772.7" cy="1388.1" r="3.5"/><circle cx="1762.6" cy="1401.7" r="3.5"/><circle cx="1792" cy="1395.8" r="3.5"/><circle cx="1772.7" cy="1407.6" r="3.5"/><circle cx="1782.6" cy="1407.6" r="3.5"/><circle cx="1772.7" cy="1419.8" r="3.5"/><circle cx="1782.6" cy="1425.7" r="3.5"/><circle cx="1767.3" cy="1437.4" r="3.5"/><circle cx="1777.4" cy="1437.4" r="3.5"/><circle cx="1786.1" cy="1437.4" r="3.5"/><circle cx="1782.6" cy="1460.9" r="3.5"/><circle cx="1772.7" cy="1466.8" r="3.5"/></g>
<path d="M1516.9 1354H1545.1M1516.9 1370.9H1545.1M1531 1354V1370.9" stroke="#000" stroke-width="1.5" fill="none"/>
<path d="M1599.2 1345.7H1627.4M1599.2 1364.6H1627.4M1613.3 1345.7V1364.6" stroke="#000" stroke-width="1.5" fill="none"/>
<path d="M1681.1 1318.2H1709.3M1681.1 1343.4H1709.3M1695.2 1318.2V1343.4" stroke="#000" stroke-width="1.5" fill="none"/>
<path d="M1763.3 1376.8H1791.5M1763.3 1393.2H1791.5M1777.4 1376.8V1393.2" stroke="#000" stroke-width="1.5" fill="none"/>
<path d="M1477 1175.8V1531.9" stroke="#000" stroke-width="3.6" fill="none" stroke-linecap="square"/>
<path d="M1461.2 1531.9H1831.9" stroke="#000" stroke-width="3.6" fill="none"/>
<path d="M1462 1175.8H1477M1462 1294.5H1477M1462 1413.2H1477M1462 1531.9H1477M1468.5 1215.4H1477M1468.5 1254.9H1477M1468.5 1334.1H1477M1468.5 1373.6H1477M1468.5 1452.8H1477M1468.5 1492.3H1477M1531 1531.9V1547.4M1613.3 1531.9V1547.4M1695.2 1531.9V1547.4M1777.4 1531.9V1547.4" stroke="#000" stroke-width="3.6" fill="none"/>
<text x="1456.6" y="1184.8" font-size="25" font-weight="700" text-anchor="end">60</text>
<text x="1456.6" y="1303.5" font-size="25" font-weight="700" text-anchor="end">40</text>
<text x="1456.6" y="1422.2" font-size="25" font-weight="700" text-anchor="end">20</text>
<text x="1456.6" y="1540.9" font-size="25" font-weight="700" text-anchor="end">0</text>
<text transform="translate(1404.6 1354) rotate(-90)" font-size="28.3" font-weight="700" text-anchor="middle">Peristaltic Contractions</text>
<text transform="translate(1532 1575.9) rotate(-45)" font-size="26.8" font-weight="700" text-anchor="end">Control</text>
<text transform="translate(1613.5 1576.7) rotate(-45)" font-size="26.8" font-weight="700" text-anchor="end">0.01mM</text>
<text transform="translate(1695.4 1576.7) rotate(-45)" font-size="26.8" font-weight="700" text-anchor="end">0.1mM</text>
<text transform="translate(1777.6 1576.7) rotate(-45)" font-size="26.8" font-weight="700" text-anchor="end">1mM</text>
<path d="M1556.6 1663.6H1832.2" stroke="#000" stroke-width="3.6" stroke-linecap="round" fill="none"/>
<text x="1690.8" y="1704.6" font-size="29" font-weight="700" text-anchor="middle">[BPS]</text>
<path d="M1531 1059.9V1003H1777.4V1262" stroke="#000" stroke-width="3.6" fill="none" stroke-linecap="round" stroke-linejoin="miter"/>
<path d="M1531 1137V1080.6H1695.2V1179.3" stroke="#000" stroke-width="3.6" fill="none" stroke-linecap="round" stroke-linejoin="miter"/>
<path d="M1531 1250.8V1157.9H1613.3V1214.6" stroke="#000" stroke-width="3.6" fill="none" stroke-linecap="round" stroke-linejoin="miter"/>
<text x="1654" y="983.5" font-size="28.5" text-anchor="middle">ns</text>
<text x="1613.8" y="1061.1" font-size="28.5" text-anchor="middle">ns</text>
<text x="1572.2" y="1138.6" font-size="28.5" text-anchor="middle">ns</text>
<text transform="translate(1368.6 992.2) scale(1.06 1.03)" font-size="58.5">H</text></g>
<g><rect x="1989.5" y="1412.2" width="48.9" height="119.7" fill="#aafaf2" stroke="#000" stroke-width="4.7"/>
<rect x="2071.3" y="1382.6" width="48.9" height="149.3" fill="url(#pI2)" stroke="#000" stroke-width="4.7"/>
<rect x="2152.8" y="1364" width="48.9" height="167.9" fill="url(#pI3)" stroke="#000" stroke-width="4.7"/>
<rect x="2234" y="1376.3" width="48.9" height="155.6" fill="#8b3a76" stroke="#000" stroke-width="4.7"/>
<g fill="#000"><circle cx="2009.7" cy="1285.4" r="3.4"/><circle cx="2018.1" cy="1285.4" r="3.4"/><circle cx="2005.8" cy="1320.7" r="3.4"/><circle cx="2013.9" cy="1320.7" r="3.4"/><circle cx="2022" cy="1320.7" r="3.4"/><circle cx="2005.8" cy="1356" r="3.4"/><circle cx="2013.9" cy="1356" r="3.4"/><circle cx="2022" cy="1356" r="3.4"/><circle cx="1990.1" cy="1391.3" r="3.4"/><circle cx="1998" cy="1391.3" r="3.4"/><circle cx="2006" cy="1391.3" r="3.4"/><circle cx="2013.9" cy="1391.3" r="3.4"/><circle cx="2021.9" cy="1391.3" r="3.4"/><circle cx="2029.8" cy="1391.3" r="3.4"/><circle cx="2037.8" cy="1391.3" r="3.4"/><circle cx="1997.9" cy="1426.6" r="3.4"/><circle cx="2005.9" cy="1426.6" r="3.4"/><circle cx="2013.9" cy="1426.6" r="3.4"/><circle cx="2021.9" cy="1426.6" r="3.4"/><circle cx="2029.9" cy="1426.6" r="3.4"/><circle cx="1990.1" cy="1461.9" r="3.4"/><circle cx="1998" cy="1461.9" r="3.4"/><circle cx="2006" cy="1461.9" r="3.4"/><circle cx="2013.9" cy="1461.9" r="3.4"/><circle cx="2021.9" cy="1461.9" r="3.4"/><circle cx="2029.8" cy="1461.9" r="3.4"/><circle cx="2037.8" cy="1461.9" r="3.4"/><circle cx="2001.8" cy="1497.2" r="3.4"/><circle cx="2009.9" cy="1497.2" r="3.4"/><circle cx="2018" cy="1497.2" r="3.4"/><circle cx="2026.1" cy="1497.2" r="3.4"/><circle cx="2091.3" cy="1285.4" r="3.4"/><circle cx="2095.5" cy="1285.4" r="3.4"/><circle cx="2099.7" cy="1285.4" r="3.4"/><circle cx="2084.8" cy="1320.7" r="3.4"/><circle cx="2089.1" cy="1320.7" r="3.4"/><circle cx="2093.3" cy="1320.7" r="3.4"/><circle cx="2097.7" cy="1320.7" r="3.4"/><circle cx="2101.9" cy="1320.7" r="3.4"/><circle cx="2106.2" cy="1320.7" r="3.4"/><circle cx="2084.8" cy="1356" r="3.4"/><circle cx="2089.1" cy="1356" r="3.4"/><circle cx="2093.3" cy="1356" r="3.4"/><circle cx="2097.7" cy="1356" r="3.4"/><circle cx="2101.9" cy="1356" r="3.4"/><circle cx="2106.2" cy="1356" r="3.4"/><circle cx="2093.3" cy="1391.3" r="3.4"/><circle cx="2097.7" cy="1391.3" r="3.4"/><circle cx="2074.5" cy="1426.6" r="3.4"/><circle cx="2078.7" cy="1426.6" r="3.4"/><circle cx="2082.9" cy="1426.6" r="3.4"/><circle cx="2087.1" cy="1426.6" r="3.4"/><circle cx="2091.3" cy="1426.6" r="3.4"/><circle cx="2095.5" cy="1426.6" r="3.4"/><circle cx="2099.7" cy="1426.6" r="3.4"/><circle cx="2103.9" cy="1426.6" r="3.4"/><circle cx="2108.1" cy="1426.6" r="3.4"/><circle cx="2112.3" cy="1426.6" r="3.4"/><circle cx="2116.5" cy="1426.6" r="3.4"/><circle cx="2091.3" cy="1461.9" r="3.4"/><circle cx="2095.5" cy="1461.9" r="3.4"/><circle cx="2099.7" cy="1461.9" r="3.4"/><circle cx="2177" cy="1250.1" r="3.4"/><circle cx="2173.2" cy="1285.4" r="3.4"/><circle cx="2180.8" cy="1285.4" r="3.4"/><circle cx="2156.3" cy="1320.7" r="3.4"/><circle cx="2163.2" cy="1320.7" r="3.4"/><circle cx="2170.1" cy="1320.7" r="3.4"/><circle cx="2177" cy="1320.7" r="3.4"/><circle cx="2183.9" cy="1320.7" r="3.4"/><circle cx="2190.8" cy="1320.7" r="3.4"/><circle cx="2197.7" cy="1320.7" r="3.4"/><circle cx="2166.7" cy="1356" r="3.4"/><circle cx="2173.6" cy="1356" r="3.4"/><circle cx="2180.4" cy="1356" r="3.4"/><circle cx="2187.3" cy="1356" r="3.4"/><circle cx="2156.3" cy="1391.3" r="3.4"/><circle cx="2163.2" cy="1391.3" r="3.4"/><circle cx="2170.1" cy="1391.3" r="3.4"/><circle cx="2177" cy="1391.3" r="3.4"/><circle cx="2183.9" cy="1391.3" r="3.4"/><circle cx="2190.8" cy="1391.3" r="3.4"/><circle cx="2197.7" cy="1391.3" r="3.4"/><circle cx="2173.2" cy="1426.6" r="3.4"/><circle cx="2180.8" cy="1426.6" r="3.4"/><circle cx="2173.2" cy="1461.9" r="3.4"/><circle cx="2180.8" cy="1461.9" r="3.4"/><circle cx="2258.3" cy="1214.8" r="3.4"/><circle cx="2258.3" cy="1250.1" r="3.4"/><circle cx="2258.3" cy="1285.4" r="3.4"/><circle cx="2237.6" cy="1320.7" r="3.4"/><circle cx="2244.5" cy="1320.7" r="3.4"/><circle cx="2251.4" cy="1320.7" r="3.4"/><circle cx="2258.3" cy="1320.7" r="3.4"/><circle cx="2265.2" cy="1320.7" r="3.4"/><circle cx="2272.1" cy="1320.7" r="3.4"/><circle cx="2279" cy="1320.7" r="3.4"/><circle cx="2234.7" cy="1356" r="3.4"/><circle cx="2240.6" cy="1356" r="3.4"/><circle cx="2246.5" cy="1356" r="3.4"/><circle cx="2252.4" cy="1356" r="3.4"/><circle cx="2258.3" cy="1356" r="3.4"/><circle cx="2264.2" cy="1356" r="3.4"/><circle cx="2270.1" cy="1356" r="3.4"/><circle cx="2276" cy="1356" r="3.4"/><circle cx="2281.9" cy="1356" r="3.4"/><circle cx="2254.5" cy="1391.3" r="3.4"/><circle cx="2262.2" cy="1391.3" r="3.4"/><circle cx="2247.7" cy="1426.6" r="3.4"/><circle cx="2254.8" cy="1426.6" r="3.4"/><circle cx="2261.9" cy="1426.6" r="3.4"/><circle cx="2269" cy="1426.6" r="3.4"/><circle cx="2247.7" cy="1461.9" r="3.4"/><circle cx="2254.8" cy="1461.9" r="3.4"/><circle cx="2261.9" cy="1461.9" r="3.4"/><circle cx="2269" cy="1461.9" r="3.4"/><circle cx="2258.3" cy="1497.2" r="3.4"/><circle cx="2258.3" cy="1532.5" r="3.4"/></g>
<path d="M2000 1398.6H2028M2000 1421H2028M2014 1398.6V1421" stroke="#000" stroke-width="1.5" fill="none"/>
<path d="M2081.8 1369.7H2109.8M2081.8 1390H2109.8M2095.8 1369.7V1390" stroke="#000" stroke-width="1.5" fill="none"/>
<path d="M2163.3 1350.9H2191.3M2163.3 1372.3H2191.3M2177.3 1350.9V1372.3" stroke="#000" stroke-width="1.5" fill="none"/>
<path d="M2244.5 1361H2272.5M2244.5 1387.4H2272.5M2258.5 1361V1387.4" stroke="#000" stroke-width="1.5" fill="none"/>
<path d="M1959.9 1179.5V1532.5" stroke="#000" stroke-width="3.6" fill="none" stroke-linecap="square"/>
<path d="M1944.6 1532.5H2313" stroke="#000" stroke-width="3.6" fill="none"/>
<path d="M1944.9 1179.5H1959.9M1944.9 1250.1H1959.9M1944.9 1320.7H1959.9M1944.9 1391.3H1959.9M1944.9 1461.9H1959.9M1944.9 1532.5H1959.9M1951.4 1203H1959.9M1951.4 1226.6H1959.9M1951.4 1273.6H1959.9M1951.4 1297.2H1959.9M1951.4 1344.2H1959.9M1951.4 1367.8H1959.9M1951.4 1414.8H1959.9M1951.4 1438.4H1959.9M1951.4 1485.4H1959.9M1951.4 1509H1959.9M2014 1532.5V1548M2095.8 1532.5V1548M2177.3 1532.5V1548M2258.5 1532.5V1548" stroke="#000" stroke-width="3.6" fill="none"/>
<text x="1939.5" y="1188.4" font-size="24.8" font-weight="700" text-anchor="end">10</text>
<text x="1939.5" y="1259" font-size="24.8" font-weight="700" text-anchor="end">8</text>
<text x="1939.5" y="1329.6" font-size="24.8" font-weight="700" text-anchor="end">6</text>
<text x="1939.5" y="1400.2" font-size="24.8" font-weight="700" text-anchor="end">4</text>
<text x="1939.5" y="1470.8" font-size="24.8" font-weight="700" text-anchor="end">2</text>
<text x="1939.5" y="1541.4" font-size="24.8" font-weight="700" text-anchor="end">0</text>
<text transform="translate(1889.4 1356) rotate(-90)" font-size="28.2" font-weight="700" text-anchor="middle">Reorientation Events</text>
<text transform="translate(2014 1576.5) rotate(-45)" font-size="26.6" font-weight="700" text-anchor="end">Control</text>
<text transform="translate(2096 1577.3) rotate(-45)" font-size="26.6" font-weight="700" text-anchor="end">0.01mM</text>
<text transform="translate(2177.5 1577.3) rotate(-45)" font-size="26.6" font-weight="700" text-anchor="end">0.1mM</text>
<text transform="translate(2258.7 1577.3) rotate(-45)" font-size="26.6" font-weight="700" text-anchor="end">1mM</text>
<path d="M2040.1 1663.6H2313" stroke="#000" stroke-width="3.6" stroke-linecap="round" fill="none"/>
<text x="2173.2" y="1700.8" font-size="29" font-weight="700" text-anchor="middle">[BPS]</text>
<path d="M2014 1075.6V1025.1H2258.5V1193.9" stroke="#000" stroke-width="3.6" fill="none" stroke-linecap="round" stroke-linejoin="miter"/>
<path d="M2014 1152.7V1096.3H2177.3V1229.6" stroke="#000" stroke-width="3.6" fill="none" stroke-linecap="round" stroke-linejoin="miter"/>
<path d="M2014 1264.9V1173.2H2095.8V1264.9" stroke="#000" stroke-width="3.6" fill="none" stroke-linecap="round" stroke-linejoin="miter"/>
<text x="2136.7" y="1006.5" font-size="28.3" text-anchor="middle">ns</text>
<line x1="2095.8" y1="1061.6" x2="2095.8" y2="1081.6" stroke="#000" stroke-width="4.3"/><line x1="2087.1" y1="1066.6" x2="2104.5" y2="1076.6" stroke="#000" stroke-width="4.3"/><line x1="2087.1" y1="1076.6" x2="2104.5" y2="1066.6" stroke="#000" stroke-width="4.3"/>
<text x="2054.6" y="1153.9" font-size="28.3" text-anchor="middle">ns</text>
<text transform="translate(1877.3 992.2) scale(1.1 1.03)" font-size="58.5">I</text></g>
</svg>
</body></html>
